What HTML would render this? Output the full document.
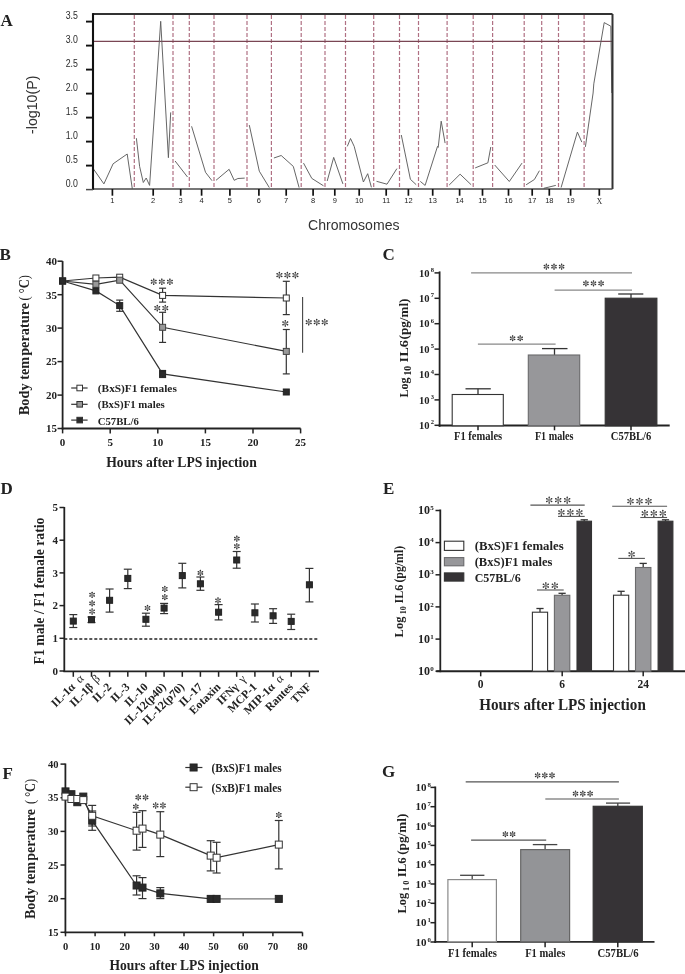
<!DOCTYPE html><html><head><meta charset="utf-8"><style>html,body{margin:0;padding:0;background:#fff;}svg{display:block;}</style></head><body>
<svg width="685" height="974" viewBox="0 0 685 974">
<rect width="685" height="974" fill="#fff"/>
<line x1="134.3" y1="15.0" x2="134.3" y2="189.0" stroke="#b07083" stroke-width="1.2" stroke-dasharray="4,2"/>
<line x1="173.0" y1="15.0" x2="173.0" y2="189.0" stroke="#b07083" stroke-width="1.2" stroke-dasharray="4,2"/>
<line x1="189.3" y1="15.0" x2="189.3" y2="189.0" stroke="#b07083" stroke-width="1.2" stroke-dasharray="4,2"/>
<line x1="214.0" y1="15.0" x2="214.0" y2="189.0" stroke="#b07083" stroke-width="1.2" stroke-dasharray="4,2"/>
<line x1="247.0" y1="15.0" x2="247.0" y2="189.0" stroke="#b07083" stroke-width="1.2" stroke-dasharray="4,2"/>
<line x1="271.4" y1="15.0" x2="271.4" y2="189.0" stroke="#b07083" stroke-width="1.2" stroke-dasharray="4,2"/>
<line x1="301.2" y1="15.0" x2="301.2" y2="189.0" stroke="#b07083" stroke-width="1.2" stroke-dasharray="4,2"/>
<line x1="325.0" y1="15.0" x2="325.0" y2="189.0" stroke="#b07083" stroke-width="1.2" stroke-dasharray="4,2"/>
<line x1="345.5" y1="15.0" x2="345.5" y2="189.0" stroke="#b07083" stroke-width="1.2" stroke-dasharray="4,2"/>
<line x1="373.7" y1="15.0" x2="373.7" y2="189.0" stroke="#b07083" stroke-width="1.2" stroke-dasharray="4,2"/>
<line x1="399.5" y1="15.0" x2="399.5" y2="189.0" stroke="#b07083" stroke-width="1.2" stroke-dasharray="4,2"/>
<line x1="418.5" y1="15.0" x2="418.5" y2="189.0" stroke="#b07083" stroke-width="1.2" stroke-dasharray="4,2"/>
<line x1="447.1" y1="15.0" x2="447.1" y2="189.0" stroke="#b07083" stroke-width="1.2" stroke-dasharray="4,2"/>
<line x1="473.2" y1="15.0" x2="473.2" y2="189.0" stroke="#b07083" stroke-width="1.2" stroke-dasharray="4,2"/>
<line x1="492.6" y1="15.0" x2="492.6" y2="189.0" stroke="#b07083" stroke-width="1.2" stroke-dasharray="4,2"/>
<line x1="524.2" y1="15.0" x2="524.2" y2="189.0" stroke="#b07083" stroke-width="1.2" stroke-dasharray="4,2"/>
<line x1="541.7" y1="15.0" x2="541.7" y2="189.0" stroke="#b07083" stroke-width="1.2" stroke-dasharray="4,2"/>
<line x1="558.5" y1="15.0" x2="558.5" y2="189.0" stroke="#b07083" stroke-width="1.2" stroke-dasharray="4,2"/>
<line x1="584.1" y1="15.0" x2="584.1" y2="189.0" stroke="#b07083" stroke-width="1.2" stroke-dasharray="4,2"/>
<line x1="93.0" y1="41.3" x2="612.5" y2="41.3" stroke="#7a4654" stroke-width="1.2" />
<polyline points="93.2,168.6 103.9,183.9 113.1,163.8 127.2,154.0 132.3,188.8" fill="none" stroke="#5e5e5e" stroke-width="0.95" stroke-linejoin="miter" />
<polyline points="136.4,138.2 139.6,166.4 143.3,182.5 146.2,178.0 149.6,185.4 160.7,21.3 168.4,157.7 170.7,112.4" fill="none" stroke="#5e5e5e" stroke-width="0.95" stroke-linejoin="miter" />
<polyline points="175.1,161.0 187.5,177.0" fill="none" stroke="#5e5e5e" stroke-width="0.95" stroke-linejoin="miter" />
<polyline points="191.6,126.3 205.5,172.3 212.0,180.7" fill="none" stroke="#5e5e5e" stroke-width="0.95" stroke-linejoin="miter" />
<polyline points="216.0,180.3 229.1,169.3 234.2,180.3 237.9,178.5 244.7,178.1" fill="none" stroke="#5e5e5e" stroke-width="0.95" stroke-linejoin="miter" />
<polyline points="249.3,125.1 259.3,171.2 269.3,187.6" fill="none" stroke="#5e5e5e" stroke-width="0.95" stroke-linejoin="miter" />
<polyline points="273.9,158.0 281.2,155.5 293.3,166.4 299.1,187.6" fill="none" stroke="#5e5e5e" stroke-width="0.95" stroke-linejoin="miter" />
<polyline points="303.5,163.1 311.8,178.4 323.5,185.8" fill="none" stroke="#5e5e5e" stroke-width="0.95" stroke-linejoin="miter" />
<polyline points="327.2,181.0 333.7,157.4 342.9,183.9" fill="none" stroke="#5e5e5e" stroke-width="0.95" stroke-linejoin="miter" />
<polyline points="347.3,146.4 350.5,138.5 354.2,146.4 363.4,182.0 367.7,173.7 371.4,187.3" fill="none" stroke="#5e5e5e" stroke-width="0.95" stroke-linejoin="miter" />
<polyline points="376.5,181.3 387.0,184.2 396.9,168.6" fill="none" stroke="#5e5e5e" stroke-width="0.95" stroke-linejoin="miter" />
<polyline points="401.3,135.0 410.4,179.3 416.2,184.7" fill="none" stroke="#5e5e5e" stroke-width="0.95" stroke-linejoin="miter" />
<polyline points="420.3,181.4 425.1,185.4 437.5,146.4 438.2,147.4 441.2,121.2 445.1,143.1" fill="none" stroke="#5e5e5e" stroke-width="0.95" stroke-linejoin="miter" />
<polyline points="449.2,185.0 460.1,174.2 471.1,184.7" fill="none" stroke="#5e5e5e" stroke-width="0.95" stroke-linejoin="miter" />
<polyline points="475.2,167.9 487.9,162.8 490.8,147.0" fill="none" stroke="#5e5e5e" stroke-width="0.95" stroke-linejoin="miter" />
<polyline points="494.7,165.0 509.3,181.5 522.0,163.1" fill="none" stroke="#5e5e5e" stroke-width="0.95" stroke-linejoin="miter" />
<polyline points="526.1,184.8 534.4,179.5 539.4,170.7" fill="none" stroke="#5e5e5e" stroke-width="0.95" stroke-linejoin="miter" />
<polyline points="543.7,188.3 555.8,185.4" fill="none" stroke="#5e5e5e" stroke-width="0.95" stroke-linejoin="miter" />
<polyline points="561.1,187.5 577.4,132.1 581.8,142.1" fill="none" stroke="#5e5e5e" stroke-width="0.95" stroke-linejoin="miter" />
<polyline points="585.4,146.9 593.1,93.0 593.8,83.8 604.2,22.6 610.8,26.2 611.8,93.0" fill="none" stroke="#5e5e5e" stroke-width="0.95" stroke-linejoin="miter" />
<line x1="93.0" y1="14.0" x2="612.5" y2="14.0" stroke="#333" stroke-width="2" />
<line x1="612.5" y1="14.0" x2="612.5" y2="189.0" stroke="#333" stroke-width="2" />
<line x1="93.0" y1="189.0" x2="612.5" y2="189.0" stroke="#4a4a4a" stroke-width="1.5" />
<line x1="93.0" y1="13.1" x2="93.0" y2="189.7" stroke="#111" stroke-width="2.1" />
<line x1="86.0" y1="189.6" x2="93.0" y2="189.6" stroke="#4a4a4a" stroke-width="1.5" />
<line x1="86.0" y1="165.6" x2="93.0" y2="165.6" stroke="#111" stroke-width="1.9" />
<line x1="86.0" y1="141.6" x2="93.0" y2="141.6" stroke="#111" stroke-width="1.9" />
<line x1="86.0" y1="117.6" x2="93.0" y2="117.6" stroke="#111" stroke-width="1.9" />
<line x1="86.0" y1="93.6" x2="93.0" y2="93.6" stroke="#111" stroke-width="1.9" />
<line x1="86.0" y1="69.6" x2="93.0" y2="69.6" stroke="#111" stroke-width="1.9" />
<line x1="86.0" y1="45.6" x2="93.0" y2="45.6" stroke="#111" stroke-width="1.9" />
<line x1="86.0" y1="21.6" x2="93.0" y2="21.6" stroke="#111" stroke-width="1.9" />
<line x1="112.4" y1="189.0" x2="112.4" y2="195.7" stroke="#111" stroke-width="1.7" />
<line x1="153.2" y1="189.0" x2="153.2" y2="195.7" stroke="#111" stroke-width="1.7" />
<line x1="180.7" y1="189.0" x2="180.7" y2="195.7" stroke="#111" stroke-width="1.7" />
<line x1="201.6" y1="189.0" x2="201.6" y2="195.7" stroke="#111" stroke-width="1.7" />
<line x1="229.9" y1="189.0" x2="229.9" y2="195.7" stroke="#111" stroke-width="1.7" />
<line x1="258.9" y1="189.0" x2="258.9" y2="195.7" stroke="#111" stroke-width="1.7" />
<line x1="286.2" y1="189.0" x2="286.2" y2="195.7" stroke="#111" stroke-width="1.7" />
<line x1="313.1" y1="189.0" x2="313.1" y2="195.7" stroke="#111" stroke-width="1.7" />
<line x1="334.8" y1="189.0" x2="334.8" y2="195.7" stroke="#111" stroke-width="1.7" />
<line x1="359.2" y1="189.0" x2="359.2" y2="195.7" stroke="#111" stroke-width="1.7" />
<line x1="386.2" y1="189.0" x2="386.2" y2="195.7" stroke="#111" stroke-width="1.7" />
<line x1="408.4" y1="189.0" x2="408.4" y2="195.7" stroke="#111" stroke-width="1.7" />
<line x1="432.7" y1="189.0" x2="432.7" y2="195.7" stroke="#111" stroke-width="1.7" />
<line x1="459.6" y1="189.0" x2="459.6" y2="195.7" stroke="#111" stroke-width="1.7" />
<line x1="482.5" y1="189.0" x2="482.5" y2="195.7" stroke="#111" stroke-width="1.7" />
<line x1="508.5" y1="189.0" x2="508.5" y2="195.7" stroke="#111" stroke-width="1.7" />
<line x1="532.2" y1="189.0" x2="532.2" y2="195.7" stroke="#111" stroke-width="1.7" />
<line x1="549.3" y1="189.0" x2="549.3" y2="195.7" stroke="#111" stroke-width="1.7" />
<line x1="570.6" y1="189.0" x2="570.6" y2="195.7" stroke="#111" stroke-width="1.7" />
<line x1="599.3" y1="189.0" x2="599.3" y2="195.7" stroke="#111" stroke-width="1.7" />
<line x1="62.6" y1="261.1" x2="62.6" y2="429.4" stroke="#222" stroke-width="1.8" />
<line x1="61.7" y1="428.5" x2="300.6" y2="428.5" stroke="#222" stroke-width="1.8" />
<line x1="57.5" y1="428.5" x2="62.6" y2="428.5" stroke="#222" stroke-width="1.5" />
<line x1="57.5" y1="395.1" x2="62.6" y2="395.1" stroke="#222" stroke-width="1.5" />
<line x1="57.5" y1="361.6" x2="62.6" y2="361.6" stroke="#222" stroke-width="1.5" />
<line x1="57.5" y1="328.1" x2="62.6" y2="328.1" stroke="#222" stroke-width="1.5" />
<line x1="57.5" y1="294.7" x2="62.6" y2="294.7" stroke="#222" stroke-width="1.5" />
<line x1="57.5" y1="261.2" x2="62.6" y2="261.2" stroke="#222" stroke-width="1.5" />
<line x1="62.6" y1="428.4" x2="62.6" y2="433.4" stroke="#222" stroke-width="1.5" />
<line x1="110.2" y1="428.4" x2="110.2" y2="433.4" stroke="#222" stroke-width="1.5" />
<line x1="157.8" y1="428.4" x2="157.8" y2="433.4" stroke="#222" stroke-width="1.5" />
<line x1="205.4" y1="428.4" x2="205.4" y2="433.4" stroke="#222" stroke-width="1.5" />
<line x1="253.0" y1="428.4" x2="253.0" y2="433.4" stroke="#222" stroke-width="1.5" />
<line x1="300.6" y1="428.4" x2="300.6" y2="433.4" stroke="#222" stroke-width="1.5" />
<line x1="162.6" y1="288.2" x2="162.6" y2="302.1" stroke="#333" stroke-width="1.2" />
<line x1="159.1" y1="288.2" x2="166.1" y2="288.2" stroke="#333" stroke-width="1.2" />
<line x1="159.1" y1="302.1" x2="166.1" y2="302.1" stroke="#333" stroke-width="1.2" />
<line x1="286.3" y1="281.3" x2="286.3" y2="314.6" stroke="#333" stroke-width="1.2" />
<line x1="282.8" y1="281.3" x2="289.8" y2="281.3" stroke="#333" stroke-width="1.2" />
<line x1="282.8" y1="314.6" x2="289.8" y2="314.6" stroke="#333" stroke-width="1.2" />
<line x1="162.6" y1="312.3" x2="162.6" y2="342.4" stroke="#333" stroke-width="1.2" />
<line x1="159.1" y1="312.3" x2="166.1" y2="312.3" stroke="#333" stroke-width="1.2" />
<line x1="159.1" y1="342.4" x2="166.1" y2="342.4" stroke="#333" stroke-width="1.2" />
<line x1="286.3" y1="329.5" x2="286.3" y2="373.9" stroke="#333" stroke-width="1.2" />
<line x1="282.8" y1="329.5" x2="289.8" y2="329.5" stroke="#333" stroke-width="1.2" />
<line x1="282.8" y1="373.9" x2="289.8" y2="373.9" stroke="#333" stroke-width="1.2" />
<line x1="119.7" y1="300.1" x2="119.7" y2="311.3" stroke="#333" stroke-width="1.2" />
<line x1="116.2" y1="300.1" x2="123.2" y2="300.1" stroke="#333" stroke-width="1.2" />
<line x1="116.2" y1="311.3" x2="123.2" y2="311.3" stroke="#333" stroke-width="1.2" />
<line x1="162.6" y1="370.5" x2="162.6" y2="377.5" stroke="#333" stroke-width="1.2" />
<line x1="159.1" y1="370.5" x2="166.1" y2="370.5" stroke="#333" stroke-width="1.2" />
<line x1="159.1" y1="377.5" x2="166.1" y2="377.5" stroke="#333" stroke-width="1.2" />
<polyline points="62.6,281.0 95.9,290.9 119.7,305.6 162.6,373.9 286.3,392.0" fill="none" stroke="#333" stroke-width="1.2" stroke-linejoin="miter" />
<polyline points="62.6,281.0 95.9,284.3 119.7,280.2 162.6,327.3 286.3,351.4" fill="none" stroke="#333" stroke-width="1.2" stroke-linejoin="miter" />
<polyline points="62.6,281.0 95.9,278.0 119.7,277.2 162.6,295.4 286.3,298.0" fill="none" stroke="#333" stroke-width="1.2" stroke-linejoin="miter" />
<rect x="59.6" y="278.0" width="6" height="6" fill="#fff" stroke="#333" stroke-width="1"/>
<rect x="92.9" y="275.0" width="6" height="6" fill="#fff" stroke="#333" stroke-width="1"/>
<rect x="116.7" y="274.2" width="6" height="6" fill="#fff" stroke="#333" stroke-width="1"/>
<rect x="159.6" y="292.4" width="6" height="6" fill="#fff" stroke="#333" stroke-width="1"/>
<rect x="283.3" y="295.0" width="6" height="6" fill="#fff" stroke="#333" stroke-width="1"/>
<rect x="59.6" y="278.0" width="6" height="6" fill="#999" stroke="#444" stroke-width="1"/>
<rect x="92.9" y="281.3" width="6" height="6" fill="#999" stroke="#444" stroke-width="1"/>
<rect x="116.7" y="277.2" width="6" height="6" fill="#999" stroke="#444" stroke-width="1"/>
<rect x="159.6" y="324.3" width="6" height="6" fill="#999" stroke="#444" stroke-width="1"/>
<rect x="283.3" y="348.4" width="6" height="6" fill="#999" stroke="#444" stroke-width="1"/>
<rect x="59.6" y="278.0" width="6" height="6" fill="#2a2a2a" stroke="#222" stroke-width="1"/>
<rect x="92.9" y="287.9" width="6" height="6" fill="#2a2a2a" stroke="#222" stroke-width="1"/>
<rect x="116.7" y="302.6" width="6" height="6" fill="#2a2a2a" stroke="#222" stroke-width="1"/>
<rect x="159.6" y="370.9" width="6" height="6" fill="#2a2a2a" stroke="#222" stroke-width="1"/>
<rect x="283.3" y="389.0" width="6" height="6" fill="#2a2a2a" stroke="#222" stroke-width="1"/>
<path d="M153.70,281.70L153.70,279.14M153.70,281.70L155.92,280.42M153.70,281.70L155.92,282.98M153.70,281.70L153.70,284.26M153.70,281.70L151.48,280.42M153.70,281.70L151.48,282.98" stroke="#8a8a8a" stroke-width="1.26" stroke-linecap="round"/>
<g fill="#333"><circle cx="153.70" cy="279.14" r="0.75"/><circle cx="155.92" cy="280.42" r="0.75"/><circle cx="155.92" cy="282.98" r="0.75"/><circle cx="153.70" cy="284.26" r="0.75"/><circle cx="151.48" cy="280.42" r="0.75"/><circle cx="151.48" cy="282.98" r="0.75"/></g>
<path d="M161.80,281.70L161.80,279.14M161.80,281.70L164.02,280.42M161.80,281.70L164.02,282.98M161.80,281.70L161.80,284.26M161.80,281.70L159.58,280.42M161.80,281.70L159.58,282.98" stroke="#8a8a8a" stroke-width="1.26" stroke-linecap="round"/>
<g fill="#333"><circle cx="161.80" cy="279.14" r="0.75"/><circle cx="164.02" cy="280.42" r="0.75"/><circle cx="164.02" cy="282.98" r="0.75"/><circle cx="161.80" cy="284.26" r="0.75"/><circle cx="159.58" cy="280.42" r="0.75"/><circle cx="159.58" cy="282.98" r="0.75"/></g>
<path d="M169.90,281.70L169.90,279.14M169.90,281.70L172.12,280.42M169.90,281.70L172.12,282.98M169.90,281.70L169.90,284.26M169.90,281.70L167.68,280.42M169.90,281.70L167.68,282.98" stroke="#8a8a8a" stroke-width="1.26" stroke-linecap="round"/>
<g fill="#333"><circle cx="169.90" cy="279.14" r="0.75"/><circle cx="172.12" cy="280.42" r="0.75"/><circle cx="172.12" cy="282.98" r="0.75"/><circle cx="169.90" cy="284.26" r="0.75"/><circle cx="167.68" cy="280.42" r="0.75"/><circle cx="167.68" cy="282.98" r="0.75"/></g>
<path d="M157.30,308.10L157.30,305.54M157.30,308.10L159.52,306.82M157.30,308.10L159.52,309.38M157.30,308.10L157.30,310.66M157.30,308.10L155.08,306.82M157.30,308.10L155.08,309.38" stroke="#8a8a8a" stroke-width="1.26" stroke-linecap="round"/>
<g fill="#333"><circle cx="157.30" cy="305.54" r="0.75"/><circle cx="159.52" cy="306.82" r="0.75"/><circle cx="159.52" cy="309.38" r="0.75"/><circle cx="157.30" cy="310.66" r="0.75"/><circle cx="155.08" cy="306.82" r="0.75"/><circle cx="155.08" cy="309.38" r="0.75"/></g>
<path d="M165.30,308.10L165.30,305.54M165.30,308.10L167.52,306.82M165.30,308.10L167.52,309.38M165.30,308.10L165.30,310.66M165.30,308.10L163.08,306.82M165.30,308.10L163.08,309.38" stroke="#8a8a8a" stroke-width="1.26" stroke-linecap="round"/>
<g fill="#333"><circle cx="165.30" cy="305.54" r="0.75"/><circle cx="167.52" cy="306.82" r="0.75"/><circle cx="167.52" cy="309.38" r="0.75"/><circle cx="165.30" cy="310.66" r="0.75"/><circle cx="163.08" cy="306.82" r="0.75"/><circle cx="163.08" cy="309.38" r="0.75"/></g>
<path d="M279.40,275.10L279.40,272.46M279.40,275.10L281.69,273.78M279.40,275.10L281.69,276.42M279.40,275.10L279.40,277.74M279.40,275.10L277.11,273.78M279.40,275.10L277.11,276.42" stroke="#8a8a8a" stroke-width="1.26" stroke-linecap="round"/>
<g fill="#333"><circle cx="279.40" cy="272.46" r="0.75"/><circle cx="281.69" cy="273.78" r="0.75"/><circle cx="281.69" cy="276.42" r="0.75"/><circle cx="279.40" cy="277.74" r="0.75"/><circle cx="277.11" cy="273.78" r="0.75"/><circle cx="277.11" cy="276.42" r="0.75"/></g>
<path d="M287.40,275.10L287.40,272.46M287.40,275.10L289.69,273.78M287.40,275.10L289.69,276.42M287.40,275.10L287.40,277.74M287.40,275.10L285.11,273.78M287.40,275.10L285.11,276.42" stroke="#8a8a8a" stroke-width="1.26" stroke-linecap="round"/>
<g fill="#333"><circle cx="287.40" cy="272.46" r="0.75"/><circle cx="289.69" cy="273.78" r="0.75"/><circle cx="289.69" cy="276.42" r="0.75"/><circle cx="287.40" cy="277.74" r="0.75"/><circle cx="285.11" cy="273.78" r="0.75"/><circle cx="285.11" cy="276.42" r="0.75"/></g>
<path d="M295.40,275.10L295.40,272.46M295.40,275.10L297.69,273.78M295.40,275.10L297.69,276.42M295.40,275.10L295.40,277.74M295.40,275.10L293.11,273.78M295.40,275.10L293.11,276.42" stroke="#8a8a8a" stroke-width="1.26" stroke-linecap="round"/>
<g fill="#333"><circle cx="295.40" cy="272.46" r="0.75"/><circle cx="297.69" cy="273.78" r="0.75"/><circle cx="297.69" cy="276.42" r="0.75"/><circle cx="295.40" cy="277.74" r="0.75"/><circle cx="293.11" cy="273.78" r="0.75"/><circle cx="293.11" cy="276.42" r="0.75"/></g>
<path d="M285.30,323.40L285.30,320.76M285.30,323.40L287.59,322.08M285.30,323.40L287.59,324.72M285.30,323.40L285.30,326.04M285.30,323.40L283.01,322.08M285.30,323.40L283.01,324.72" stroke="#8a8a8a" stroke-width="1.26" stroke-linecap="round"/>
<g fill="#333"><circle cx="285.30" cy="320.76" r="0.75"/><circle cx="287.59" cy="322.08" r="0.75"/><circle cx="287.59" cy="324.72" r="0.75"/><circle cx="285.30" cy="326.04" r="0.75"/><circle cx="283.01" cy="322.08" r="0.75"/><circle cx="283.01" cy="324.72" r="0.75"/></g>
<line x1="302.6" y1="297.1" x2="302.6" y2="352.8" stroke="#444" stroke-width="1.1" />
<path d="M308.70,322.20L308.70,319.56M308.70,322.20L310.99,320.88M308.70,322.20L310.99,323.52M308.70,322.20L308.70,324.84M308.70,322.20L306.41,320.88M308.70,322.20L306.41,323.52" stroke="#8a8a8a" stroke-width="1.26" stroke-linecap="round"/>
<g fill="#333"><circle cx="308.70" cy="319.56" r="0.75"/><circle cx="310.99" cy="320.88" r="0.75"/><circle cx="310.99" cy="323.52" r="0.75"/><circle cx="308.70" cy="324.84" r="0.75"/><circle cx="306.41" cy="320.88" r="0.75"/><circle cx="306.41" cy="323.52" r="0.75"/></g>
<path d="M316.70,322.20L316.70,319.56M316.70,322.20L318.99,320.88M316.70,322.20L318.99,323.52M316.70,322.20L316.70,324.84M316.70,322.20L314.41,320.88M316.70,322.20L314.41,323.52" stroke="#8a8a8a" stroke-width="1.26" stroke-linecap="round"/>
<g fill="#333"><circle cx="316.70" cy="319.56" r="0.75"/><circle cx="318.99" cy="320.88" r="0.75"/><circle cx="318.99" cy="323.52" r="0.75"/><circle cx="316.70" cy="324.84" r="0.75"/><circle cx="314.41" cy="320.88" r="0.75"/><circle cx="314.41" cy="323.52" r="0.75"/></g>
<path d="M324.70,322.20L324.70,319.56M324.70,322.20L326.99,320.88M324.70,322.20L326.99,323.52M324.70,322.20L324.70,324.84M324.70,322.20L322.41,320.88M324.70,322.20L322.41,323.52" stroke="#8a8a8a" stroke-width="1.26" stroke-linecap="round"/>
<g fill="#333"><circle cx="324.70" cy="319.56" r="0.75"/><circle cx="326.99" cy="320.88" r="0.75"/><circle cx="326.99" cy="323.52" r="0.75"/><circle cx="324.70" cy="324.84" r="0.75"/><circle cx="322.41" cy="320.88" r="0.75"/><circle cx="322.41" cy="323.52" r="0.75"/></g>
<line x1="71.2" y1="388.0" x2="87.6" y2="388.0" stroke="#333" stroke-width="1.2" />
<rect x="76.9" y="385.2" width="5.6" height="5.6" fill="#fff" stroke="#333" stroke-width="1"/>
<line x1="71.2" y1="404.3" x2="87.6" y2="404.3" stroke="#333" stroke-width="1.2" />
<rect x="76.9" y="401.5" width="5.6" height="5.6" fill="#999" stroke="#333" stroke-width="1"/>
<line x1="71.2" y1="420.1" x2="87.6" y2="420.1" stroke="#333" stroke-width="1.2" />
<rect x="76.9" y="417.3" width="5.6" height="5.6" fill="#2a2a2a" stroke="#333" stroke-width="1"/>
<line x1="439.6" y1="271.4" x2="439.6" y2="426.8" stroke="#222" stroke-width="1.8" />
<line x1="438.7" y1="425.5" x2="669.7" y2="425.5" stroke="#222" stroke-width="2" />
<line x1="434.5" y1="425.3" x2="439.6" y2="425.3" stroke="#222" stroke-width="1.5" />
<line x1="434.5" y1="399.9" x2="439.6" y2="399.9" stroke="#222" stroke-width="1.5" />
<line x1="434.5" y1="374.5" x2="439.6" y2="374.5" stroke="#222" stroke-width="1.5" />
<line x1="434.5" y1="349.1" x2="439.6" y2="349.1" stroke="#222" stroke-width="1.5" />
<line x1="434.5" y1="323.7" x2="439.6" y2="323.7" stroke="#222" stroke-width="1.5" />
<line x1="434.5" y1="298.3" x2="439.6" y2="298.3" stroke="#222" stroke-width="1.5" />
<line x1="434.5" y1="272.9" x2="439.6" y2="272.9" stroke="#222" stroke-width="1.5" />
<line x1="478.0" y1="388.8" x2="478.0" y2="394.5" stroke="#333" stroke-width="1.3" />
<line x1="465.5" y1="388.8" x2="490.8" y2="388.8" stroke="#333" stroke-width="1.3" />
<rect x="452.2" y="394.5" width="51.1" height="31.3" fill="#fff" stroke="#333" stroke-width="1.1"/>
<line x1="478.0" y1="425.8" x2="478.0" y2="430.3" stroke="#222" stroke-width="1.5" />
<line x1="554.5" y1="348.6" x2="554.5" y2="355.0" stroke="#333" stroke-width="1.3" />
<line x1="542.0" y1="348.6" x2="567.5" y2="348.6" stroke="#333" stroke-width="1.3" />
<rect x="528.3" y="355" width="51.4" height="70.8" fill="#97979a" stroke="#6a6a6c" stroke-width="1.1"/>
<line x1="554.5" y1="425.8" x2="554.5" y2="430.3" stroke="#222" stroke-width="1.5" />
<line x1="631.0" y1="294.0" x2="631.0" y2="298.2" stroke="#333" stroke-width="1.3" />
<line x1="618.2" y1="294.0" x2="643.3" y2="294.0" stroke="#333" stroke-width="1.3" />
<rect x="605.2" y="298.2" width="51.7" height="127.6" fill="#363336" stroke="#333" stroke-width="1.1"/>
<line x1="631.0" y1="425.8" x2="631.0" y2="430.3" stroke="#222" stroke-width="1.5" />
<line x1="471.1" y1="272.9" x2="632.0" y2="272.9" stroke="#888" stroke-width="1.1" />
<path d="M546.40,266.60L546.40,264.28M546.40,266.60L548.41,265.44M546.40,266.60L548.41,267.76M546.40,266.60L546.40,268.92M546.40,266.60L544.39,265.44M546.40,266.60L544.39,267.76" stroke="#8a8a8a" stroke-width="1.26" stroke-linecap="round"/>
<g fill="#333"><circle cx="546.40" cy="264.28" r="0.75"/><circle cx="548.41" cy="265.44" r="0.75"/><circle cx="548.41" cy="267.76" r="0.75"/><circle cx="546.40" cy="268.92" r="0.75"/><circle cx="544.39" cy="265.44" r="0.75"/><circle cx="544.39" cy="267.76" r="0.75"/></g>
<path d="M554.00,266.60L554.00,264.28M554.00,266.60L556.01,265.44M554.00,266.60L556.01,267.76M554.00,266.60L554.00,268.92M554.00,266.60L551.99,265.44M554.00,266.60L551.99,267.76" stroke="#8a8a8a" stroke-width="1.26" stroke-linecap="round"/>
<g fill="#333"><circle cx="554.00" cy="264.28" r="0.75"/><circle cx="556.01" cy="265.44" r="0.75"/><circle cx="556.01" cy="267.76" r="0.75"/><circle cx="554.00" cy="268.92" r="0.75"/><circle cx="551.99" cy="265.44" r="0.75"/><circle cx="551.99" cy="267.76" r="0.75"/></g>
<path d="M561.60,266.60L561.60,264.28M561.60,266.60L563.61,265.44M561.60,266.60L563.61,267.76M561.60,266.60L561.60,268.92M561.60,266.60L559.59,265.44M561.60,266.60L559.59,267.76" stroke="#8a8a8a" stroke-width="1.26" stroke-linecap="round"/>
<g fill="#333"><circle cx="561.60" cy="264.28" r="0.75"/><circle cx="563.61" cy="265.44" r="0.75"/><circle cx="563.61" cy="267.76" r="0.75"/><circle cx="561.60" cy="268.92" r="0.75"/><circle cx="559.59" cy="265.44" r="0.75"/><circle cx="559.59" cy="267.76" r="0.75"/></g>
<line x1="554.6" y1="290.1" x2="632.0" y2="290.1" stroke="#888" stroke-width="1.1" />
<path d="M585.90,283.40L585.90,281.08M585.90,283.40L587.91,282.24M585.90,283.40L587.91,284.56M585.90,283.40L585.90,285.72M585.90,283.40L583.89,282.24M585.90,283.40L583.89,284.56" stroke="#8a8a8a" stroke-width="1.26" stroke-linecap="round"/>
<g fill="#333"><circle cx="585.90" cy="281.08" r="0.75"/><circle cx="587.91" cy="282.24" r="0.75"/><circle cx="587.91" cy="284.56" r="0.75"/><circle cx="585.90" cy="285.72" r="0.75"/><circle cx="583.89" cy="282.24" r="0.75"/><circle cx="583.89" cy="284.56" r="0.75"/></g>
<path d="M593.50,283.40L593.50,281.08M593.50,283.40L595.51,282.24M593.50,283.40L595.51,284.56M593.50,283.40L593.50,285.72M593.50,283.40L591.49,282.24M593.50,283.40L591.49,284.56" stroke="#8a8a8a" stroke-width="1.26" stroke-linecap="round"/>
<g fill="#333"><circle cx="593.50" cy="281.08" r="0.75"/><circle cx="595.51" cy="282.24" r="0.75"/><circle cx="595.51" cy="284.56" r="0.75"/><circle cx="593.50" cy="285.72" r="0.75"/><circle cx="591.49" cy="282.24" r="0.75"/><circle cx="591.49" cy="284.56" r="0.75"/></g>
<path d="M601.10,283.40L601.10,281.08M601.10,283.40L603.11,282.24M601.10,283.40L603.11,284.56M601.10,283.40L601.10,285.72M601.10,283.40L599.09,282.24M601.10,283.40L599.09,284.56" stroke="#8a8a8a" stroke-width="1.26" stroke-linecap="round"/>
<g fill="#333"><circle cx="601.10" cy="281.08" r="0.75"/><circle cx="603.11" cy="282.24" r="0.75"/><circle cx="603.11" cy="284.56" r="0.75"/><circle cx="601.10" cy="285.72" r="0.75"/><circle cx="599.09" cy="282.24" r="0.75"/><circle cx="599.09" cy="284.56" r="0.75"/></g>
<line x1="477.9" y1="344.1" x2="555.6" y2="344.1" stroke="#888" stroke-width="1.1" />
<path d="M512.60,338.30L512.60,335.98M512.60,338.30L514.61,337.14M512.60,338.30L514.61,339.46M512.60,338.30L512.60,340.62M512.60,338.30L510.59,337.14M512.60,338.30L510.59,339.46" stroke="#8a8a8a" stroke-width="1.26" stroke-linecap="round"/>
<g fill="#333"><circle cx="512.60" cy="335.98" r="0.75"/><circle cx="514.61" cy="337.14" r="0.75"/><circle cx="514.61" cy="339.46" r="0.75"/><circle cx="512.60" cy="340.62" r="0.75"/><circle cx="510.59" cy="337.14" r="0.75"/><circle cx="510.59" cy="339.46" r="0.75"/></g>
<path d="M520.20,338.30L520.20,335.98M520.20,338.30L522.21,337.14M520.20,338.30L522.21,339.46M520.20,338.30L520.20,340.62M520.20,338.30L518.19,337.14M520.20,338.30L518.19,339.46" stroke="#8a8a8a" stroke-width="1.26" stroke-linecap="round"/>
<g fill="#333"><circle cx="520.20" cy="335.98" r="0.75"/><circle cx="522.21" cy="337.14" r="0.75"/><circle cx="522.21" cy="339.46" r="0.75"/><circle cx="520.20" cy="340.62" r="0.75"/><circle cx="518.19" cy="337.14" r="0.75"/><circle cx="518.19" cy="339.46" r="0.75"/></g>
<line x1="64.3" y1="507.0" x2="64.3" y2="672.0" stroke="#222" stroke-width="1.8" />
<line x1="63.4" y1="671.4" x2="319.0" y2="671.4" stroke="#222" stroke-width="1.8" />
<line x1="59.5" y1="671.0" x2="64.3" y2="671.0" stroke="#222" stroke-width="1.5" />
<line x1="59.5" y1="638.3" x2="64.3" y2="638.3" stroke="#222" stroke-width="1.5" />
<line x1="59.5" y1="605.6" x2="64.3" y2="605.6" stroke="#222" stroke-width="1.5" />
<line x1="59.5" y1="572.9" x2="64.3" y2="572.9" stroke="#222" stroke-width="1.5" />
<line x1="59.5" y1="540.2" x2="64.3" y2="540.2" stroke="#222" stroke-width="1.5" />
<line x1="59.5" y1="507.5" x2="64.3" y2="507.5" stroke="#222" stroke-width="1.5" />
<line x1="64.3" y1="639.0" x2="317.3" y2="639.0" stroke="#222" stroke-width="1.5" stroke-dasharray="3,2"/>
<line x1="73.3" y1="614.6" x2="73.3" y2="627.5" stroke="#333" stroke-width="1.2" />
<line x1="69.3" y1="614.6" x2="77.3" y2="614.6" stroke="#333" stroke-width="1.2" />
<line x1="69.3" y1="627.5" x2="77.3" y2="627.5" stroke="#333" stroke-width="1.2" />
<rect x="70.3" y="618.1" width="6" height="6" fill="#2a2a2a" stroke="#222" stroke-width="1"/>
<line x1="73.3" y1="671.4" x2="73.3" y2="676.8" stroke="#222" stroke-width="1.5" />
<line x1="91.5" y1="617.0" x2="91.5" y2="622.5" stroke="#333" stroke-width="1.2" />
<line x1="87.5" y1="617.0" x2="95.5" y2="617.0" stroke="#333" stroke-width="1.2" />
<line x1="87.5" y1="622.5" x2="95.5" y2="622.5" stroke="#333" stroke-width="1.2" />
<rect x="88.5" y="616.7" width="6" height="6" fill="#2a2a2a" stroke="#222" stroke-width="1"/>
<line x1="91.5" y1="671.4" x2="91.5" y2="676.8" stroke="#222" stroke-width="1.5" />
<line x1="109.6" y1="589.0" x2="109.6" y2="612.1" stroke="#333" stroke-width="1.2" />
<line x1="105.6" y1="589.0" x2="113.6" y2="589.0" stroke="#333" stroke-width="1.2" />
<line x1="105.6" y1="612.1" x2="113.6" y2="612.1" stroke="#333" stroke-width="1.2" />
<rect x="106.6" y="597.3" width="6" height="6" fill="#2a2a2a" stroke="#222" stroke-width="1"/>
<line x1="109.6" y1="671.4" x2="109.6" y2="676.8" stroke="#222" stroke-width="1.5" />
<line x1="127.8" y1="569.2" x2="127.8" y2="588.6" stroke="#333" stroke-width="1.2" />
<line x1="123.8" y1="569.2" x2="131.8" y2="569.2" stroke="#333" stroke-width="1.2" />
<line x1="123.8" y1="588.6" x2="131.8" y2="588.6" stroke="#333" stroke-width="1.2" />
<rect x="124.8" y="575.4" width="6" height="6" fill="#2a2a2a" stroke="#222" stroke-width="1"/>
<line x1="127.8" y1="671.4" x2="127.8" y2="676.8" stroke="#222" stroke-width="1.5" />
<line x1="145.9" y1="613.2" x2="145.9" y2="626.2" stroke="#333" stroke-width="1.2" />
<line x1="141.9" y1="613.2" x2="149.9" y2="613.2" stroke="#333" stroke-width="1.2" />
<line x1="141.9" y1="626.2" x2="149.9" y2="626.2" stroke="#333" stroke-width="1.2" />
<rect x="142.9" y="616.3" width="6" height="6" fill="#2a2a2a" stroke="#222" stroke-width="1"/>
<line x1="145.9" y1="671.4" x2="145.9" y2="676.8" stroke="#222" stroke-width="1.5" />
<line x1="164.1" y1="603.4" x2="164.1" y2="613.6" stroke="#333" stroke-width="1.2" />
<line x1="160.1" y1="603.4" x2="168.1" y2="603.4" stroke="#333" stroke-width="1.2" />
<line x1="160.1" y1="613.6" x2="168.1" y2="613.6" stroke="#333" stroke-width="1.2" />
<rect x="161.1" y="605.1" width="6" height="6" fill="#2a2a2a" stroke="#222" stroke-width="1"/>
<line x1="164.1" y1="671.4" x2="164.1" y2="676.8" stroke="#222" stroke-width="1.5" />
<line x1="182.3" y1="563.3" x2="182.3" y2="587.9" stroke="#333" stroke-width="1.2" />
<line x1="178.3" y1="563.3" x2="186.3" y2="563.3" stroke="#333" stroke-width="1.2" />
<line x1="178.3" y1="587.9" x2="186.3" y2="587.9" stroke="#333" stroke-width="1.2" />
<rect x="179.3" y="572.6" width="6" height="6" fill="#2a2a2a" stroke="#222" stroke-width="1"/>
<line x1="182.3" y1="671.4" x2="182.3" y2="676.8" stroke="#222" stroke-width="1.5" />
<line x1="200.4" y1="577.0" x2="200.4" y2="590.3" stroke="#333" stroke-width="1.2" />
<line x1="196.4" y1="577.0" x2="204.4" y2="577.0" stroke="#333" stroke-width="1.2" />
<line x1="196.4" y1="590.3" x2="204.4" y2="590.3" stroke="#333" stroke-width="1.2" />
<rect x="197.4" y="580.8" width="6" height="6" fill="#2a2a2a" stroke="#222" stroke-width="1"/>
<line x1="200.4" y1="671.4" x2="200.4" y2="676.8" stroke="#222" stroke-width="1.5" />
<line x1="218.6" y1="604.6" x2="218.6" y2="619.9" stroke="#333" stroke-width="1.2" />
<line x1="214.6" y1="604.6" x2="222.6" y2="604.6" stroke="#333" stroke-width="1.2" />
<line x1="214.6" y1="619.9" x2="222.6" y2="619.9" stroke="#333" stroke-width="1.2" />
<rect x="215.6" y="609.2" width="6" height="6" fill="#2a2a2a" stroke="#222" stroke-width="1"/>
<line x1="218.6" y1="671.4" x2="218.6" y2="676.8" stroke="#222" stroke-width="1.5" />
<line x1="236.7" y1="551.5" x2="236.7" y2="568.2" stroke="#333" stroke-width="1.2" />
<line x1="232.7" y1="551.5" x2="240.7" y2="551.5" stroke="#333" stroke-width="1.2" />
<line x1="232.7" y1="568.2" x2="240.7" y2="568.2" stroke="#333" stroke-width="1.2" />
<rect x="233.7" y="557.0" width="6" height="6" fill="#2a2a2a" stroke="#222" stroke-width="1"/>
<line x1="236.7" y1="671.4" x2="236.7" y2="676.8" stroke="#222" stroke-width="1.5" />
<line x1="254.9" y1="604.0" x2="254.9" y2="622.0" stroke="#333" stroke-width="1.2" />
<line x1="250.9" y1="604.0" x2="258.9" y2="604.0" stroke="#333" stroke-width="1.2" />
<line x1="250.9" y1="622.0" x2="258.9" y2="622.0" stroke="#333" stroke-width="1.2" />
<rect x="251.9" y="609.8" width="6" height="6" fill="#2a2a2a" stroke="#222" stroke-width="1"/>
<line x1="254.9" y1="671.4" x2="254.9" y2="676.8" stroke="#222" stroke-width="1.5" />
<line x1="273.1" y1="608.7" x2="273.1" y2="623.4" stroke="#333" stroke-width="1.2" />
<line x1="269.1" y1="608.7" x2="277.1" y2="608.7" stroke="#333" stroke-width="1.2" />
<line x1="269.1" y1="623.4" x2="277.1" y2="623.4" stroke="#333" stroke-width="1.2" />
<rect x="270.1" y="612.8" width="6" height="6" fill="#2a2a2a" stroke="#222" stroke-width="1"/>
<line x1="273.1" y1="671.4" x2="273.1" y2="676.8" stroke="#222" stroke-width="1.5" />
<line x1="291.2" y1="614.2" x2="291.2" y2="629.5" stroke="#333" stroke-width="1.2" />
<line x1="287.2" y1="614.2" x2="295.2" y2="614.2" stroke="#333" stroke-width="1.2" />
<line x1="287.2" y1="629.5" x2="295.2" y2="629.5" stroke="#333" stroke-width="1.2" />
<rect x="288.2" y="618.4" width="6" height="6" fill="#2a2a2a" stroke="#222" stroke-width="1"/>
<line x1="291.2" y1="671.4" x2="291.2" y2="676.8" stroke="#222" stroke-width="1.5" />
<line x1="309.4" y1="568.4" x2="309.4" y2="601.9" stroke="#333" stroke-width="1.2" />
<line x1="305.4" y1="568.4" x2="313.4" y2="568.4" stroke="#333" stroke-width="1.2" />
<line x1="305.4" y1="601.9" x2="313.4" y2="601.9" stroke="#333" stroke-width="1.2" />
<rect x="306.4" y="581.8" width="6" height="6" fill="#2a2a2a" stroke="#222" stroke-width="1"/>
<line x1="309.4" y1="671.4" x2="309.4" y2="676.8" stroke="#222" stroke-width="1.5" />
<path d="M92.10,594.80L92.10,592.40M92.10,594.80L94.18,593.60M92.10,594.80L94.18,596.00M92.10,594.80L92.10,597.20M92.10,594.80L90.02,593.60M92.10,594.80L90.02,596.00" stroke="#8a8a8a" stroke-width="1.26" stroke-linecap="round"/>
<g fill="#333"><circle cx="92.10" cy="592.40" r="0.75"/><circle cx="94.18" cy="593.60" r="0.75"/><circle cx="94.18" cy="596.00" r="0.75"/><circle cx="92.10" cy="597.20" r="0.75"/><circle cx="90.02" cy="593.60" r="0.75"/><circle cx="90.02" cy="596.00" r="0.75"/></g>
<path d="M92.10,603.40L92.10,601.00M92.10,603.40L94.18,602.20M92.10,603.40L94.18,604.60M92.10,603.40L92.10,605.80M92.10,603.40L90.02,602.20M92.10,603.40L90.02,604.60" stroke="#8a8a8a" stroke-width="1.26" stroke-linecap="round"/>
<g fill="#333"><circle cx="92.10" cy="601.00" r="0.75"/><circle cx="94.18" cy="602.20" r="0.75"/><circle cx="94.18" cy="604.60" r="0.75"/><circle cx="92.10" cy="605.80" r="0.75"/><circle cx="90.02" cy="602.20" r="0.75"/><circle cx="90.02" cy="604.60" r="0.75"/></g>
<path d="M92.10,611.50L92.10,609.10M92.10,611.50L94.18,610.30M92.10,611.50L94.18,612.70M92.10,611.50L92.10,613.90M92.10,611.50L90.02,610.30M92.10,611.50L90.02,612.70" stroke="#8a8a8a" stroke-width="1.26" stroke-linecap="round"/>
<g fill="#333"><circle cx="92.10" cy="609.10" r="0.75"/><circle cx="94.18" cy="610.30" r="0.75"/><circle cx="94.18" cy="612.70" r="0.75"/><circle cx="92.10" cy="613.90" r="0.75"/><circle cx="90.02" cy="610.30" r="0.75"/><circle cx="90.02" cy="612.70" r="0.75"/></g>
<path d="M147.50,608.00L147.50,605.60M147.50,608.00L149.58,606.80M147.50,608.00L149.58,609.20M147.50,608.00L147.50,610.40M147.50,608.00L145.42,606.80M147.50,608.00L145.42,609.20" stroke="#8a8a8a" stroke-width="1.26" stroke-linecap="round"/>
<g fill="#333"><circle cx="147.50" cy="605.60" r="0.75"/><circle cx="149.58" cy="606.80" r="0.75"/><circle cx="149.58" cy="609.20" r="0.75"/><circle cx="147.50" cy="610.40" r="0.75"/><circle cx="145.42" cy="606.80" r="0.75"/><circle cx="145.42" cy="609.20" r="0.75"/></g>
<path d="M164.80,589.00L164.80,586.60M164.80,589.00L166.88,587.80M164.80,589.00L166.88,590.20M164.80,589.00L164.80,591.40M164.80,589.00L162.72,587.80M164.80,589.00L162.72,590.20" stroke="#8a8a8a" stroke-width="1.26" stroke-linecap="round"/>
<g fill="#333"><circle cx="164.80" cy="586.60" r="0.75"/><circle cx="166.88" cy="587.80" r="0.75"/><circle cx="166.88" cy="590.20" r="0.75"/><circle cx="164.80" cy="591.40" r="0.75"/><circle cx="162.72" cy="587.80" r="0.75"/><circle cx="162.72" cy="590.20" r="0.75"/></g>
<path d="M164.80,597.20L164.80,594.80M164.80,597.20L166.88,596.00M164.80,597.20L166.88,598.40M164.80,597.20L164.80,599.60M164.80,597.20L162.72,596.00M164.80,597.20L162.72,598.40" stroke="#8a8a8a" stroke-width="1.26" stroke-linecap="round"/>
<g fill="#333"><circle cx="164.80" cy="594.80" r="0.75"/><circle cx="166.88" cy="596.00" r="0.75"/><circle cx="166.88" cy="598.40" r="0.75"/><circle cx="164.80" cy="599.60" r="0.75"/><circle cx="162.72" cy="596.00" r="0.75"/><circle cx="162.72" cy="598.40" r="0.75"/></g>
<path d="M200.40,572.90L200.40,570.50M200.40,572.90L202.48,571.70M200.40,572.90L202.48,574.10M200.40,572.90L200.40,575.30M200.40,572.90L198.32,571.70M200.40,572.90L198.32,574.10" stroke="#8a8a8a" stroke-width="1.26" stroke-linecap="round"/>
<g fill="#333"><circle cx="200.40" cy="570.50" r="0.75"/><circle cx="202.48" cy="571.70" r="0.75"/><circle cx="202.48" cy="574.10" r="0.75"/><circle cx="200.40" cy="575.30" r="0.75"/><circle cx="198.32" cy="571.70" r="0.75"/><circle cx="198.32" cy="574.10" r="0.75"/></g>
<path d="M218.00,600.50L218.00,598.10M218.00,600.50L220.08,599.30M218.00,600.50L220.08,601.70M218.00,600.50L218.00,602.90M218.00,600.50L215.92,599.30M218.00,600.50L215.92,601.70" stroke="#8a8a8a" stroke-width="1.26" stroke-linecap="round"/>
<g fill="#333"><circle cx="218.00" cy="598.10" r="0.75"/><circle cx="220.08" cy="599.30" r="0.75"/><circle cx="220.08" cy="601.70" r="0.75"/><circle cx="218.00" cy="602.90" r="0.75"/><circle cx="215.92" cy="599.30" r="0.75"/><circle cx="215.92" cy="601.70" r="0.75"/></g>
<path d="M236.80,538.60L236.80,536.20M236.80,538.60L238.88,537.40M236.80,538.60L238.88,539.80M236.80,538.60L236.80,541.00M236.80,538.60L234.72,537.40M236.80,538.60L234.72,539.80" stroke="#8a8a8a" stroke-width="1.26" stroke-linecap="round"/>
<g fill="#333"><circle cx="236.80" cy="536.20" r="0.75"/><circle cx="238.88" cy="537.40" r="0.75"/><circle cx="238.88" cy="539.80" r="0.75"/><circle cx="236.80" cy="541.00" r="0.75"/><circle cx="234.72" cy="537.40" r="0.75"/><circle cx="234.72" cy="539.80" r="0.75"/></g>
<path d="M236.80,546.30L236.80,543.90M236.80,546.30L238.88,545.10M236.80,546.30L238.88,547.50M236.80,546.30L236.80,548.70M236.80,546.30L234.72,545.10M236.80,546.30L234.72,547.50" stroke="#8a8a8a" stroke-width="1.26" stroke-linecap="round"/>
<g fill="#333"><circle cx="236.80" cy="543.90" r="0.75"/><circle cx="238.88" cy="545.10" r="0.75"/><circle cx="238.88" cy="547.50" r="0.75"/><circle cx="236.80" cy="548.70" r="0.75"/><circle cx="234.72" cy="545.10" r="0.75"/><circle cx="234.72" cy="547.50" r="0.75"/></g>
<line x1="440.3" y1="509.5" x2="440.3" y2="672.2" stroke="#222" stroke-width="1.8" />
<line x1="436.3" y1="671.2" x2="685.0" y2="671.2" stroke="#222" stroke-width="2" />
<line x1="435.5" y1="671.2" x2="440.3" y2="671.2" stroke="#222" stroke-width="1.5" />
<line x1="435.5" y1="639.1" x2="440.3" y2="639.1" stroke="#222" stroke-width="1.5" />
<line x1="435.5" y1="606.9" x2="440.3" y2="606.9" stroke="#222" stroke-width="1.5" />
<line x1="435.5" y1="574.8" x2="440.3" y2="574.8" stroke="#222" stroke-width="1.5" />
<line x1="435.5" y1="542.6" x2="440.3" y2="542.6" stroke="#222" stroke-width="1.5" />
<line x1="435.5" y1="510.5" x2="440.3" y2="510.5" stroke="#222" stroke-width="1.5" />
<line x1="540.0" y1="608.5" x2="540.0" y2="612.2" stroke="#333" stroke-width="1.3" />
<line x1="536.4" y1="608.5" x2="543.6" y2="608.5" stroke="#333" stroke-width="1.3" />
<rect x="532.4" y="612.2" width="15.2" height="59.0" fill="#fff" stroke="#333" stroke-width="1.1"/>
<line x1="562.1" y1="593.3" x2="562.1" y2="595.3" stroke="#333" stroke-width="1.3" />
<line x1="558.5" y1="593.3" x2="565.7" y2="593.3" stroke="#333" stroke-width="1.3" />
<rect x="554.4" y="595.3" width="15.4" height="75.9" fill="#97979a" stroke="#6a6a6c" stroke-width="1.1"/>
<line x1="584.2" y1="519.8" x2="584.2" y2="521.2" stroke="#333" stroke-width="1.3" />
<line x1="580.6" y1="519.8" x2="587.9" y2="519.8" stroke="#333" stroke-width="1.3" />
<rect x="577" y="521.2" width="14.5" height="150.0" fill="#363336" stroke="#333" stroke-width="1.1"/>
<line x1="621.1" y1="591.3" x2="621.1" y2="595.2" stroke="#333" stroke-width="1.3" />
<line x1="617.5" y1="591.3" x2="624.7" y2="591.3" stroke="#333" stroke-width="1.3" />
<rect x="613.5" y="595.2" width="15.2" height="76.0" fill="#fff" stroke="#333" stroke-width="1.1"/>
<line x1="643.2" y1="563.4" x2="643.2" y2="567.5" stroke="#333" stroke-width="1.3" />
<line x1="639.6" y1="563.4" x2="646.8" y2="563.4" stroke="#333" stroke-width="1.3" />
<rect x="635.5" y="567.5" width="15.4" height="103.7" fill="#97979a" stroke="#6a6a6c" stroke-width="1.1"/>
<line x1="665.5" y1="519.8" x2="665.5" y2="521.2" stroke="#333" stroke-width="1.3" />
<line x1="661.9" y1="519.8" x2="669.1" y2="519.8" stroke="#333" stroke-width="1.3" />
<rect x="658.1" y="521.2" width="14.8" height="150.0" fill="#363336" stroke="#333" stroke-width="1.1"/>
<line x1="480.7" y1="671.2" x2="480.7" y2="676.3" stroke="#222" stroke-width="1.5" />
<line x1="562.2" y1="671.2" x2="562.2" y2="676.3" stroke="#222" stroke-width="1.5" />
<line x1="643.2" y1="671.2" x2="643.2" y2="676.3" stroke="#222" stroke-width="1.5" />
<line x1="537.0" y1="590.0" x2="563.7" y2="590.0" stroke="#555" stroke-width="1.1" />
<path d="M545.80,585.70L545.80,582.90M545.80,585.70L548.22,584.30M545.80,585.70L548.22,587.10M545.80,585.70L545.80,588.50M545.80,585.70L543.38,584.30M545.80,585.70L543.38,587.10" stroke="#8a8a8a" stroke-width="1.26" stroke-linecap="round"/>
<g fill="#333"><circle cx="545.80" cy="582.90" r="0.75"/><circle cx="548.22" cy="584.30" r="0.75"/><circle cx="548.22" cy="587.10" r="0.75"/><circle cx="545.80" cy="588.50" r="0.75"/><circle cx="543.38" cy="584.30" r="0.75"/><circle cx="543.38" cy="587.10" r="0.75"/></g>
<path d="M554.80,585.70L554.80,582.90M554.80,585.70L557.22,584.30M554.80,585.70L557.22,587.10M554.80,585.70L554.80,588.50M554.80,585.70L552.38,584.30M554.80,585.70L552.38,587.10" stroke="#8a8a8a" stroke-width="1.26" stroke-linecap="round"/>
<g fill="#333"><circle cx="554.80" cy="582.90" r="0.75"/><circle cx="557.22" cy="584.30" r="0.75"/><circle cx="557.22" cy="587.10" r="0.75"/><circle cx="554.80" cy="588.50" r="0.75"/><circle cx="552.38" cy="584.30" r="0.75"/><circle cx="552.38" cy="587.10" r="0.75"/></g>
<line x1="558.0" y1="516.4" x2="584.7" y2="516.4" stroke="#555" stroke-width="1.1" />
<path d="M561.40,512.40L561.40,509.60M561.40,512.40L563.82,511.00M561.40,512.40L563.82,513.80M561.40,512.40L561.40,515.20M561.40,512.40L558.98,511.00M561.40,512.40L558.98,513.80" stroke="#8a8a8a" stroke-width="1.26" stroke-linecap="round"/>
<g fill="#333"><circle cx="561.40" cy="509.60" r="0.75"/><circle cx="563.82" cy="511.00" r="0.75"/><circle cx="563.82" cy="513.80" r="0.75"/><circle cx="561.40" cy="515.20" r="0.75"/><circle cx="558.98" cy="511.00" r="0.75"/><circle cx="558.98" cy="513.80" r="0.75"/></g>
<path d="M570.40,512.40L570.40,509.60M570.40,512.40L572.82,511.00M570.40,512.40L572.82,513.80M570.40,512.40L570.40,515.20M570.40,512.40L567.98,511.00M570.40,512.40L567.98,513.80" stroke="#8a8a8a" stroke-width="1.26" stroke-linecap="round"/>
<g fill="#333"><circle cx="570.40" cy="509.60" r="0.75"/><circle cx="572.82" cy="511.00" r="0.75"/><circle cx="572.82" cy="513.80" r="0.75"/><circle cx="570.40" cy="515.20" r="0.75"/><circle cx="567.98" cy="511.00" r="0.75"/><circle cx="567.98" cy="513.80" r="0.75"/></g>
<path d="M579.40,512.40L579.40,509.60M579.40,512.40L581.82,511.00M579.40,512.40L581.82,513.80M579.40,512.40L579.40,515.20M579.40,512.40L576.98,511.00M579.40,512.40L576.98,513.80" stroke="#8a8a8a" stroke-width="1.26" stroke-linecap="round"/>
<g fill="#333"><circle cx="579.40" cy="509.60" r="0.75"/><circle cx="581.82" cy="511.00" r="0.75"/><circle cx="581.82" cy="513.80" r="0.75"/><circle cx="579.40" cy="515.20" r="0.75"/><circle cx="576.98" cy="511.00" r="0.75"/><circle cx="576.98" cy="513.80" r="0.75"/></g>
<line x1="530.4" y1="505.1" x2="584.7" y2="505.1" stroke="#555" stroke-width="1.1" />
<path d="M549.20,500.10L549.20,497.30M549.20,500.10L551.62,498.70M549.20,500.10L551.62,501.50M549.20,500.10L549.20,502.90M549.20,500.10L546.78,498.70M549.20,500.10L546.78,501.50" stroke="#8a8a8a" stroke-width="1.26" stroke-linecap="round"/>
<g fill="#333"><circle cx="549.20" cy="497.30" r="0.75"/><circle cx="551.62" cy="498.70" r="0.75"/><circle cx="551.62" cy="501.50" r="0.75"/><circle cx="549.20" cy="502.90" r="0.75"/><circle cx="546.78" cy="498.70" r="0.75"/><circle cx="546.78" cy="501.50" r="0.75"/></g>
<path d="M558.20,500.10L558.20,497.30M558.20,500.10L560.62,498.70M558.20,500.10L560.62,501.50M558.20,500.10L558.20,502.90M558.20,500.10L555.78,498.70M558.20,500.10L555.78,501.50" stroke="#8a8a8a" stroke-width="1.26" stroke-linecap="round"/>
<g fill="#333"><circle cx="558.20" cy="497.30" r="0.75"/><circle cx="560.62" cy="498.70" r="0.75"/><circle cx="560.62" cy="501.50" r="0.75"/><circle cx="558.20" cy="502.90" r="0.75"/><circle cx="555.78" cy="498.70" r="0.75"/><circle cx="555.78" cy="501.50" r="0.75"/></g>
<path d="M567.20,500.10L567.20,497.30M567.20,500.10L569.62,498.70M567.20,500.10L569.62,501.50M567.20,500.10L567.20,502.90M567.20,500.10L564.78,498.70M567.20,500.10L564.78,501.50" stroke="#8a8a8a" stroke-width="1.26" stroke-linecap="round"/>
<g fill="#333"><circle cx="567.20" cy="497.30" r="0.75"/><circle cx="569.62" cy="498.70" r="0.75"/><circle cx="569.62" cy="501.50" r="0.75"/><circle cx="567.20" cy="502.90" r="0.75"/><circle cx="564.78" cy="498.70" r="0.75"/><circle cx="564.78" cy="501.50" r="0.75"/></g>
<line x1="618.3" y1="558.4" x2="644.9" y2="558.4" stroke="#555" stroke-width="1.1" />
<path d="M631.60,554.30L631.60,551.50M631.60,554.30L634.02,552.90M631.60,554.30L634.02,555.70M631.60,554.30L631.60,557.10M631.60,554.30L629.18,552.90M631.60,554.30L629.18,555.70" stroke="#8a8a8a" stroke-width="1.26" stroke-linecap="round"/>
<g fill="#333"><circle cx="631.60" cy="551.50" r="0.75"/><circle cx="634.02" cy="552.90" r="0.75"/><circle cx="634.02" cy="555.70" r="0.75"/><circle cx="631.60" cy="557.10" r="0.75"/><circle cx="629.18" cy="552.90" r="0.75"/><circle cx="629.18" cy="555.70" r="0.75"/></g>
<line x1="640.3" y1="517.5" x2="667.1" y2="517.5" stroke="#555" stroke-width="1.1" />
<path d="M644.80,513.40L644.80,510.60M644.80,513.40L647.22,512.00M644.80,513.40L647.22,514.80M644.80,513.40L644.80,516.20M644.80,513.40L642.38,512.00M644.80,513.40L642.38,514.80" stroke="#8a8a8a" stroke-width="1.26" stroke-linecap="round"/>
<g fill="#333"><circle cx="644.80" cy="510.60" r="0.75"/><circle cx="647.22" cy="512.00" r="0.75"/><circle cx="647.22" cy="514.80" r="0.75"/><circle cx="644.80" cy="516.20" r="0.75"/><circle cx="642.38" cy="512.00" r="0.75"/><circle cx="642.38" cy="514.80" r="0.75"/></g>
<path d="M653.80,513.40L653.80,510.60M653.80,513.40L656.22,512.00M653.80,513.40L656.22,514.80M653.80,513.40L653.80,516.20M653.80,513.40L651.38,512.00M653.80,513.40L651.38,514.80" stroke="#8a8a8a" stroke-width="1.26" stroke-linecap="round"/>
<g fill="#333"><circle cx="653.80" cy="510.60" r="0.75"/><circle cx="656.22" cy="512.00" r="0.75"/><circle cx="656.22" cy="514.80" r="0.75"/><circle cx="653.80" cy="516.20" r="0.75"/><circle cx="651.38" cy="512.00" r="0.75"/><circle cx="651.38" cy="514.80" r="0.75"/></g>
<path d="M662.80,513.40L662.80,510.60M662.80,513.40L665.22,512.00M662.80,513.40L665.22,514.80M662.80,513.40L662.80,516.20M662.80,513.40L660.38,512.00M662.80,513.40L660.38,514.80" stroke="#8a8a8a" stroke-width="1.26" stroke-linecap="round"/>
<g fill="#333"><circle cx="662.80" cy="510.60" r="0.75"/><circle cx="665.22" cy="512.00" r="0.75"/><circle cx="665.22" cy="514.80" r="0.75"/><circle cx="662.80" cy="516.20" r="0.75"/><circle cx="660.38" cy="512.00" r="0.75"/><circle cx="660.38" cy="514.80" r="0.75"/></g>
<line x1="612.2" y1="506.3" x2="667.1" y2="506.3" stroke="#555" stroke-width="1.1" />
<path d="M630.50,501.20L630.50,498.40M630.50,501.20L632.92,499.80M630.50,501.20L632.92,502.60M630.50,501.20L630.50,504.00M630.50,501.20L628.08,499.80M630.50,501.20L628.08,502.60" stroke="#8a8a8a" stroke-width="1.26" stroke-linecap="round"/>
<g fill="#333"><circle cx="630.50" cy="498.40" r="0.75"/><circle cx="632.92" cy="499.80" r="0.75"/><circle cx="632.92" cy="502.60" r="0.75"/><circle cx="630.50" cy="504.00" r="0.75"/><circle cx="628.08" cy="499.80" r="0.75"/><circle cx="628.08" cy="502.60" r="0.75"/></g>
<path d="M639.50,501.20L639.50,498.40M639.50,501.20L641.92,499.80M639.50,501.20L641.92,502.60M639.50,501.20L639.50,504.00M639.50,501.20L637.08,499.80M639.50,501.20L637.08,502.60" stroke="#8a8a8a" stroke-width="1.26" stroke-linecap="round"/>
<g fill="#333"><circle cx="639.50" cy="498.40" r="0.75"/><circle cx="641.92" cy="499.80" r="0.75"/><circle cx="641.92" cy="502.60" r="0.75"/><circle cx="639.50" cy="504.00" r="0.75"/><circle cx="637.08" cy="499.80" r="0.75"/><circle cx="637.08" cy="502.60" r="0.75"/></g>
<path d="M648.50,501.20L648.50,498.40M648.50,501.20L650.92,499.80M648.50,501.20L650.92,502.60M648.50,501.20L648.50,504.00M648.50,501.20L646.08,499.80M648.50,501.20L646.08,502.60" stroke="#8a8a8a" stroke-width="1.26" stroke-linecap="round"/>
<g fill="#333"><circle cx="648.50" cy="498.40" r="0.75"/><circle cx="650.92" cy="499.80" r="0.75"/><circle cx="650.92" cy="502.60" r="0.75"/><circle cx="648.50" cy="504.00" r="0.75"/><circle cx="646.08" cy="499.80" r="0.75"/><circle cx="646.08" cy="502.60" r="0.75"/></g>
<rect x="444.4" y="541.2" width="19.4" height="9.2" fill="#fff" stroke="#333" stroke-width="1.1"/>
<rect x="444.4" y="557.6" width="19.4" height="8.2" fill="#97979a" stroke="#6a6a6c" stroke-width="1.1"/>
<rect x="444.4" y="572.9" width="19.4" height="8.2" fill="#363336" stroke="#333" stroke-width="1.1"/>
<line x1="65.4" y1="763.5" x2="65.4" y2="933.2" stroke="#222" stroke-width="1.8" />
<line x1="64.5" y1="932.3" x2="302.5" y2="932.3" stroke="#222" stroke-width="1.8" />
<line x1="60.5" y1="932.3" x2="65.4" y2="932.3" stroke="#222" stroke-width="1.5" />
<line x1="60.5" y1="898.7" x2="65.4" y2="898.7" stroke="#222" stroke-width="1.5" />
<line x1="60.5" y1="865.0" x2="65.4" y2="865.0" stroke="#222" stroke-width="1.5" />
<line x1="60.5" y1="831.4" x2="65.4" y2="831.4" stroke="#222" stroke-width="1.5" />
<line x1="60.5" y1="797.7" x2="65.4" y2="797.7" stroke="#222" stroke-width="1.5" />
<line x1="60.5" y1="764.1" x2="65.4" y2="764.1" stroke="#222" stroke-width="1.5" />
<line x1="65.5" y1="932.3" x2="65.5" y2="936.3" stroke="#222" stroke-width="1.5" />
<line x1="95.1" y1="932.3" x2="95.1" y2="936.3" stroke="#222" stroke-width="1.5" />
<line x1="124.8" y1="932.3" x2="124.8" y2="936.3" stroke="#222" stroke-width="1.5" />
<line x1="154.4" y1="932.3" x2="154.4" y2="936.3" stroke="#222" stroke-width="1.5" />
<line x1="184.0" y1="932.3" x2="184.0" y2="936.3" stroke="#222" stroke-width="1.5" />
<line x1="213.6" y1="932.3" x2="213.6" y2="936.3" stroke="#222" stroke-width="1.5" />
<line x1="243.2" y1="932.3" x2="243.2" y2="936.3" stroke="#222" stroke-width="1.5" />
<line x1="272.9" y1="932.3" x2="272.9" y2="936.3" stroke="#222" stroke-width="1.5" />
<line x1="302.5" y1="932.3" x2="302.5" y2="936.3" stroke="#222" stroke-width="1.5" />
<line x1="92.2" y1="811.0" x2="92.2" y2="830.3" stroke="#333" stroke-width="1.2" />
<line x1="88.2" y1="811.0" x2="96.2" y2="811.0" stroke="#333" stroke-width="1.2" />
<line x1="88.2" y1="830.3" x2="96.2" y2="830.3" stroke="#333" stroke-width="1.2" />
<line x1="136.6" y1="875.8" x2="136.6" y2="895.0" stroke="#333" stroke-width="1.2" />
<line x1="132.6" y1="875.8" x2="140.6" y2="875.8" stroke="#333" stroke-width="1.2" />
<line x1="132.6" y1="895.0" x2="140.6" y2="895.0" stroke="#333" stroke-width="1.2" />
<line x1="142.5" y1="877.6" x2="142.5" y2="898.6" stroke="#333" stroke-width="1.2" />
<line x1="138.5" y1="877.6" x2="146.5" y2="877.6" stroke="#333" stroke-width="1.2" />
<line x1="138.5" y1="898.6" x2="146.5" y2="898.6" stroke="#333" stroke-width="1.2" />
<line x1="160.3" y1="887.6" x2="160.3" y2="898.6" stroke="#333" stroke-width="1.2" />
<line x1="156.3" y1="887.6" x2="164.3" y2="887.6" stroke="#333" stroke-width="1.2" />
<line x1="156.3" y1="898.6" x2="164.3" y2="898.6" stroke="#333" stroke-width="1.2" />
<line x1="92.2" y1="805.4" x2="92.2" y2="826.0" stroke="#333" stroke-width="1.2" />
<line x1="88.2" y1="805.4" x2="96.2" y2="805.4" stroke="#333" stroke-width="1.2" />
<line x1="88.2" y1="826.0" x2="96.2" y2="826.0" stroke="#333" stroke-width="1.2" />
<line x1="136.6" y1="812.3" x2="136.6" y2="850.1" stroke="#333" stroke-width="1.2" />
<line x1="132.6" y1="812.3" x2="140.6" y2="812.3" stroke="#333" stroke-width="1.2" />
<line x1="132.6" y1="850.1" x2="140.6" y2="850.1" stroke="#333" stroke-width="1.2" />
<line x1="142.5" y1="810.7" x2="142.5" y2="847.4" stroke="#333" stroke-width="1.2" />
<line x1="138.5" y1="810.7" x2="146.5" y2="810.7" stroke="#333" stroke-width="1.2" />
<line x1="138.5" y1="847.4" x2="146.5" y2="847.4" stroke="#333" stroke-width="1.2" />
<line x1="160.3" y1="811.7" x2="160.3" y2="856.6" stroke="#333" stroke-width="1.2" />
<line x1="156.3" y1="811.7" x2="164.3" y2="811.7" stroke="#333" stroke-width="1.2" />
<line x1="156.3" y1="856.6" x2="164.3" y2="856.6" stroke="#333" stroke-width="1.2" />
<line x1="210.7" y1="840.7" x2="210.7" y2="870.9" stroke="#333" stroke-width="1.2" />
<line x1="206.7" y1="840.7" x2="214.7" y2="840.7" stroke="#333" stroke-width="1.2" />
<line x1="206.7" y1="870.9" x2="214.7" y2="870.9" stroke="#333" stroke-width="1.2" />
<line x1="216.6" y1="842.3" x2="216.6" y2="873.0" stroke="#333" stroke-width="1.2" />
<line x1="212.6" y1="842.3" x2="220.6" y2="842.3" stroke="#333" stroke-width="1.2" />
<line x1="212.6" y1="873.0" x2="220.6" y2="873.0" stroke="#333" stroke-width="1.2" />
<line x1="278.8" y1="820.5" x2="278.8" y2="868.9" stroke="#333" stroke-width="1.2" />
<line x1="274.8" y1="820.5" x2="282.8" y2="820.5" stroke="#333" stroke-width="1.2" />
<line x1="274.8" y1="868.9" x2="282.8" y2="868.9" stroke="#333" stroke-width="1.2" />
<polyline points="65.5,791.4 71.4,794.2 77.3,802.2 83.3,796.6 92.2,820.7 136.6,885.5 142.5,887.6 160.3,893.4 210.7,898.9 216.6,898.9" fill="none" stroke="#333" stroke-width="1.2" stroke-linejoin="miter" />
<line x1="216.6" y1="898.9" x2="278.8" y2="898.9" stroke="#777" stroke-width="1.2" />
<polyline points="65.5,796.6 71.4,799.0 77.3,799.0 83.3,800.1 92.2,815.8 136.6,830.7 142.5,828.6 160.3,834.6 210.7,855.6 216.6,857.7 278.8,844.6" fill="none" stroke="#333" stroke-width="1.2" stroke-linejoin="miter" />
<rect x="62.0" y="787.9" width="7" height="7" fill="#2a2a2a" stroke="#222" stroke-width="1"/>
<rect x="67.9" y="790.7" width="7" height="7" fill="#2a2a2a" stroke="#222" stroke-width="1"/>
<rect x="73.8" y="798.7" width="7" height="7" fill="#2a2a2a" stroke="#222" stroke-width="1"/>
<rect x="79.8" y="793.1" width="7" height="7" fill="#2a2a2a" stroke="#222" stroke-width="1"/>
<rect x="88.7" y="817.2" width="7" height="7" fill="#2a2a2a" stroke="#222" stroke-width="1"/>
<rect x="133.1" y="882.0" width="7" height="7" fill="#2a2a2a" stroke="#222" stroke-width="1"/>
<rect x="139.0" y="884.1" width="7" height="7" fill="#2a2a2a" stroke="#222" stroke-width="1"/>
<rect x="156.8" y="889.9" width="7" height="7" fill="#2a2a2a" stroke="#222" stroke-width="1"/>
<rect x="207.2" y="895.4" width="7" height="7" fill="#2a2a2a" stroke="#222" stroke-width="1"/>
<rect x="213.1" y="895.4" width="7" height="7" fill="#2a2a2a" stroke="#222" stroke-width="1"/>
<rect x="275.3" y="895.4" width="7" height="7" fill="#2a2a2a" stroke="#222" stroke-width="1"/>
<rect x="62.0" y="793.1" width="7" height="7" fill="#fff" stroke="#333" stroke-width="1"/>
<rect x="67.9" y="795.5" width="7" height="7" fill="#fff" stroke="#333" stroke-width="1"/>
<rect x="73.8" y="795.5" width="7" height="7" fill="#fff" stroke="#333" stroke-width="1"/>
<rect x="79.8" y="796.6" width="7" height="7" fill="#fff" stroke="#333" stroke-width="1"/>
<rect x="88.7" y="812.3" width="7" height="7" fill="#fff" stroke="#333" stroke-width="1"/>
<rect x="133.1" y="827.2" width="7" height="7" fill="#fff" stroke="#333" stroke-width="1"/>
<rect x="139.0" y="825.1" width="7" height="7" fill="#fff" stroke="#333" stroke-width="1"/>
<rect x="156.8" y="831.1" width="7" height="7" fill="#fff" stroke="#333" stroke-width="1"/>
<rect x="207.2" y="852.1" width="7" height="7" fill="#fff" stroke="#333" stroke-width="1"/>
<rect x="213.1" y="854.2" width="7" height="7" fill="#fff" stroke="#333" stroke-width="1"/>
<rect x="275.3" y="841.1" width="7" height="7" fill="#fff" stroke="#333" stroke-width="1"/>
<path d="M135.80,806.60L135.80,804.20M135.80,806.60L137.88,805.40M135.80,806.60L137.88,807.80M135.80,806.60L135.80,809.00M135.80,806.60L133.72,805.40M135.80,806.60L133.72,807.80" stroke="#8a8a8a" stroke-width="1.26" stroke-linecap="round"/>
<g fill="#333"><circle cx="135.80" cy="804.20" r="0.75"/><circle cx="137.88" cy="805.40" r="0.75"/><circle cx="137.88" cy="807.80" r="0.75"/><circle cx="135.80" cy="809.00" r="0.75"/><circle cx="133.72" cy="805.40" r="0.75"/><circle cx="133.72" cy="807.80" r="0.75"/></g>
<path d="M138.25,797.40L138.25,795.00M138.25,797.40L140.33,796.20M138.25,797.40L140.33,798.60M138.25,797.40L138.25,799.80M138.25,797.40L136.17,796.20M138.25,797.40L136.17,798.60" stroke="#8a8a8a" stroke-width="1.26" stroke-linecap="round"/>
<g fill="#333"><circle cx="138.25" cy="795.00" r="0.75"/><circle cx="140.33" cy="796.20" r="0.75"/><circle cx="140.33" cy="798.60" r="0.75"/><circle cx="138.25" cy="799.80" r="0.75"/><circle cx="136.17" cy="796.20" r="0.75"/><circle cx="136.17" cy="798.60" r="0.75"/></g>
<path d="M145.55,797.40L145.55,795.00M145.55,797.40L147.63,796.20M145.55,797.40L147.63,798.60M145.55,797.40L145.55,799.80M145.55,797.40L143.47,796.20M145.55,797.40L143.47,798.60" stroke="#8a8a8a" stroke-width="1.26" stroke-linecap="round"/>
<g fill="#333"><circle cx="145.55" cy="795.00" r="0.75"/><circle cx="147.63" cy="796.20" r="0.75"/><circle cx="147.63" cy="798.60" r="0.75"/><circle cx="145.55" cy="799.80" r="0.75"/><circle cx="143.47" cy="796.20" r="0.75"/><circle cx="143.47" cy="798.60" r="0.75"/></g>
<path d="M155.65,805.50L155.65,803.10M155.65,805.50L157.73,804.30M155.65,805.50L157.73,806.70M155.65,805.50L155.65,807.90M155.65,805.50L153.57,804.30M155.65,805.50L153.57,806.70" stroke="#8a8a8a" stroke-width="1.26" stroke-linecap="round"/>
<g fill="#333"><circle cx="155.65" cy="803.10" r="0.75"/><circle cx="157.73" cy="804.30" r="0.75"/><circle cx="157.73" cy="806.70" r="0.75"/><circle cx="155.65" cy="807.90" r="0.75"/><circle cx="153.57" cy="804.30" r="0.75"/><circle cx="153.57" cy="806.70" r="0.75"/></g>
<path d="M162.95,805.50L162.95,803.10M162.95,805.50L165.03,804.30M162.95,805.50L165.03,806.70M162.95,805.50L162.95,807.90M162.95,805.50L160.87,804.30M162.95,805.50L160.87,806.70" stroke="#8a8a8a" stroke-width="1.26" stroke-linecap="round"/>
<g fill="#333"><circle cx="162.95" cy="803.10" r="0.75"/><circle cx="165.03" cy="804.30" r="0.75"/><circle cx="165.03" cy="806.70" r="0.75"/><circle cx="162.95" cy="807.90" r="0.75"/><circle cx="160.87" cy="804.30" r="0.75"/><circle cx="160.87" cy="806.70" r="0.75"/></g>
<path d="M278.80,815.00L278.80,812.60M278.80,815.00L280.88,813.80M278.80,815.00L280.88,816.20M278.80,815.00L278.80,817.40M278.80,815.00L276.72,813.80M278.80,815.00L276.72,816.20" stroke="#8a8a8a" stroke-width="1.26" stroke-linecap="round"/>
<g fill="#333"><circle cx="278.80" cy="812.60" r="0.75"/><circle cx="280.88" cy="813.80" r="0.75"/><circle cx="280.88" cy="816.20" r="0.75"/><circle cx="278.80" cy="817.40" r="0.75"/><circle cx="276.72" cy="813.80" r="0.75"/><circle cx="276.72" cy="816.20" r="0.75"/></g>
<line x1="185.3" y1="767.5" x2="202.4" y2="767.5" stroke="#333" stroke-width="1.2" />
<rect x="190.1" y="764.0" width="7" height="7" fill="#2a2a2a" stroke="#222" stroke-width="1"/>
<line x1="185.3" y1="787.2" x2="202.4" y2="787.2" stroke="#333" stroke-width="1.2" />
<rect x="190.1" y="783.7" width="7" height="7" fill="#fff" stroke="#333" stroke-width="1"/>
<line x1="435.3" y1="786.5" x2="435.3" y2="943.0" stroke="#222" stroke-width="1.8" />
<line x1="434.4" y1="941.8" x2="654.5" y2="941.8" stroke="#2a2a2a" stroke-width="1.7" />
<line x1="430.5" y1="942.0" x2="435.3" y2="942.0" stroke="#222" stroke-width="1.5" />
<line x1="430.5" y1="922.7" x2="435.3" y2="922.7" stroke="#222" stroke-width="1.5" />
<line x1="430.5" y1="903.3" x2="435.3" y2="903.3" stroke="#222" stroke-width="1.5" />
<line x1="430.5" y1="884.0" x2="435.3" y2="884.0" stroke="#222" stroke-width="1.5" />
<line x1="430.5" y1="864.7" x2="435.3" y2="864.7" stroke="#222" stroke-width="1.5" />
<line x1="430.5" y1="845.4" x2="435.3" y2="845.4" stroke="#222" stroke-width="1.5" />
<line x1="430.5" y1="826.0" x2="435.3" y2="826.0" stroke="#222" stroke-width="1.5" />
<line x1="430.5" y1="806.7" x2="435.3" y2="806.7" stroke="#222" stroke-width="1.5" />
<line x1="430.5" y1="787.4" x2="435.3" y2="787.4" stroke="#222" stroke-width="1.5" />
<line x1="472.2" y1="875.3" x2="472.2" y2="879.6" stroke="#444" stroke-width="1.3" />
<line x1="460.1" y1="875.3" x2="484.4" y2="875.3" stroke="#444" stroke-width="1.3" />
<rect x="447.9" y="879.6" width="48.5" height="62.2" fill="#fff" stroke="#8a8a8a" stroke-width="1.2"/>
<line x1="472.2" y1="942.0" x2="472.2" y2="947.3" stroke="#222" stroke-width="1.5" />
<line x1="545.1" y1="844.6" x2="545.1" y2="849.6" stroke="#444" stroke-width="1.3" />
<line x1="532.8" y1="844.6" x2="557.3" y2="844.6" stroke="#444" stroke-width="1.3" />
<rect x="520.7" y="849.6" width="48.9" height="92.2" fill="#939497" stroke="#666" stroke-width="1.2"/>
<line x1="545.1" y1="942.0" x2="545.1" y2="947.3" stroke="#222" stroke-width="1.5" />
<line x1="617.8" y1="803.1" x2="617.8" y2="806.3" stroke="#444" stroke-width="1.3" />
<line x1="606.0" y1="803.1" x2="630.1" y2="803.1" stroke="#444" stroke-width="1.3" />
<rect x="593.2" y="806.3" width="49.1" height="135.5" fill="#363336" stroke="#333" stroke-width="1.2"/>
<line x1="617.8" y1="942.0" x2="617.8" y2="947.3" stroke="#222" stroke-width="1.5" />
<line x1="465.7" y1="781.9" x2="618.9" y2="781.9" stroke="#555" stroke-width="1.2" />
<path d="M537.60,775.40L537.60,773.08M537.60,775.40L539.61,774.24M537.60,775.40L539.61,776.56M537.60,775.40L537.60,777.72M537.60,775.40L535.59,774.24M537.60,775.40L535.59,776.56" stroke="#8a8a8a" stroke-width="1.26" stroke-linecap="round"/>
<g fill="#333"><circle cx="537.60" cy="773.08" r="0.75"/><circle cx="539.61" cy="774.24" r="0.75"/><circle cx="539.61" cy="776.56" r="0.75"/><circle cx="537.60" cy="777.72" r="0.75"/><circle cx="535.59" cy="774.24" r="0.75"/><circle cx="535.59" cy="776.56" r="0.75"/></g>
<path d="M544.80,775.40L544.80,773.08M544.80,775.40L546.81,774.24M544.80,775.40L546.81,776.56M544.80,775.40L544.80,777.72M544.80,775.40L542.79,774.24M544.80,775.40L542.79,776.56" stroke="#8a8a8a" stroke-width="1.26" stroke-linecap="round"/>
<g fill="#333"><circle cx="544.80" cy="773.08" r="0.75"/><circle cx="546.81" cy="774.24" r="0.75"/><circle cx="546.81" cy="776.56" r="0.75"/><circle cx="544.80" cy="777.72" r="0.75"/><circle cx="542.79" cy="774.24" r="0.75"/><circle cx="542.79" cy="776.56" r="0.75"/></g>
<path d="M552.00,775.40L552.00,773.08M552.00,775.40L554.01,774.24M552.00,775.40L554.01,776.56M552.00,775.40L552.00,777.72M552.00,775.40L549.99,774.24M552.00,775.40L549.99,776.56" stroke="#8a8a8a" stroke-width="1.26" stroke-linecap="round"/>
<g fill="#333"><circle cx="552.00" cy="773.08" r="0.75"/><circle cx="554.01" cy="774.24" r="0.75"/><circle cx="554.01" cy="776.56" r="0.75"/><circle cx="552.00" cy="777.72" r="0.75"/><circle cx="549.99" cy="774.24" r="0.75"/><circle cx="549.99" cy="776.56" r="0.75"/></g>
<line x1="545.3" y1="799.0" x2="618.9" y2="799.0" stroke="#555" stroke-width="1.2" />
<path d="M575.50,793.60L575.50,791.28M575.50,793.60L577.51,792.44M575.50,793.60L577.51,794.76M575.50,793.60L575.50,795.92M575.50,793.60L573.49,792.44M575.50,793.60L573.49,794.76" stroke="#8a8a8a" stroke-width="1.26" stroke-linecap="round"/>
<g fill="#333"><circle cx="575.50" cy="791.28" r="0.75"/><circle cx="577.51" cy="792.44" r="0.75"/><circle cx="577.51" cy="794.76" r="0.75"/><circle cx="575.50" cy="795.92" r="0.75"/><circle cx="573.49" cy="792.44" r="0.75"/><circle cx="573.49" cy="794.76" r="0.75"/></g>
<path d="M582.80,793.60L582.80,791.28M582.80,793.60L584.81,792.44M582.80,793.60L584.81,794.76M582.80,793.60L582.80,795.92M582.80,793.60L580.79,792.44M582.80,793.60L580.79,794.76" stroke="#8a8a8a" stroke-width="1.26" stroke-linecap="round"/>
<g fill="#333"><circle cx="582.80" cy="791.28" r="0.75"/><circle cx="584.81" cy="792.44" r="0.75"/><circle cx="584.81" cy="794.76" r="0.75"/><circle cx="582.80" cy="795.92" r="0.75"/><circle cx="580.79" cy="792.44" r="0.75"/><circle cx="580.79" cy="794.76" r="0.75"/></g>
<path d="M590.10,793.60L590.10,791.28M590.10,793.60L592.11,792.44M590.10,793.60L592.11,794.76M590.10,793.60L590.10,795.92M590.10,793.60L588.09,792.44M590.10,793.60L588.09,794.76" stroke="#8a8a8a" stroke-width="1.26" stroke-linecap="round"/>
<g fill="#333"><circle cx="590.10" cy="791.28" r="0.75"/><circle cx="592.11" cy="792.44" r="0.75"/><circle cx="592.11" cy="794.76" r="0.75"/><circle cx="590.10" cy="795.92" r="0.75"/><circle cx="588.09" cy="792.44" r="0.75"/><circle cx="588.09" cy="794.76" r="0.75"/></g>
<line x1="471.1" y1="840.2" x2="546.2" y2="840.2" stroke="#555" stroke-width="1.2" />
<path d="M505.40,834.20L505.40,831.88M505.40,834.20L507.41,833.04M505.40,834.20L507.41,835.36M505.40,834.20L505.40,836.52M505.40,834.20L503.39,833.04M505.40,834.20L503.39,835.36" stroke="#8a8a8a" stroke-width="1.26" stroke-linecap="round"/>
<g fill="#333"><circle cx="505.40" cy="831.88" r="0.75"/><circle cx="507.41" cy="833.04" r="0.75"/><circle cx="507.41" cy="835.36" r="0.75"/><circle cx="505.40" cy="836.52" r="0.75"/><circle cx="503.39" cy="833.04" r="0.75"/><circle cx="503.39" cy="835.36" r="0.75"/></g>
<path d="M512.60,834.20L512.60,831.88M512.60,834.20L514.61,833.04M512.60,834.20L514.61,835.36M512.60,834.20L512.60,836.52M512.60,834.20L510.59,833.04M512.60,834.20L510.59,835.36" stroke="#8a8a8a" stroke-width="1.26" stroke-linecap="round"/>
<g fill="#333"><circle cx="512.60" cy="831.88" r="0.75"/><circle cx="514.61" cy="833.04" r="0.75"/><circle cx="514.61" cy="835.36" r="0.75"/><circle cx="512.60" cy="836.52" r="0.75"/><circle cx="510.59" cy="833.04" r="0.75"/><circle cx="510.59" cy="835.36" r="0.75"/></g>
<g style="filter:grayscale(1)"><text x="0.5" y="25.8" font-size="17" font-family="Liberation Serif" font-weight="bold" fill="#222" text-anchor="start" >A</text><text x="77.9" y="187.4" font-size="10" font-family="Liberation Sans" fill="#2a2a2a" text-anchor="end" textLength="12.2" lengthAdjust="spacingAndGlyphs">0.0</text><text x="77.9" y="163.4" font-size="10" font-family="Liberation Sans" fill="#2a2a2a" text-anchor="end" textLength="12.2" lengthAdjust="spacingAndGlyphs">0.5</text><text x="77.9" y="139.4" font-size="10" font-family="Liberation Sans" fill="#2a2a2a" text-anchor="end" textLength="12.2" lengthAdjust="spacingAndGlyphs">1.0</text><text x="77.9" y="115.4" font-size="10" font-family="Liberation Sans" fill="#2a2a2a" text-anchor="end" textLength="12.2" lengthAdjust="spacingAndGlyphs">1.5</text><text x="77.9" y="91.4" font-size="10" font-family="Liberation Sans" fill="#2a2a2a" text-anchor="end" textLength="12.2" lengthAdjust="spacingAndGlyphs">2.0</text><text x="77.9" y="67.4" font-size="10" font-family="Liberation Sans" fill="#2a2a2a" text-anchor="end" textLength="12.2" lengthAdjust="spacingAndGlyphs">2.5</text><text x="77.9" y="43.4" font-size="10" font-family="Liberation Sans" fill="#2a2a2a" text-anchor="end" textLength="12.2" lengthAdjust="spacingAndGlyphs">3.0</text><text x="77.9" y="19.4" font-size="10" font-family="Liberation Sans" fill="#2a2a2a" text-anchor="end" textLength="12.2" lengthAdjust="spacingAndGlyphs">3.5</text><text transform="translate(37.0,104.8) rotate(-90)" x="0" y="0" font-size="14.2" font-family="Liberation Sans" fill="#333" text-anchor="middle" >-log10(P)</text><text x="112.4" y="202.8" font-size="7.5" font-family="Liberation Sans" fill="#222" text-anchor="middle" >1</text><text x="153.2" y="202.8" font-size="7.5" font-family="Liberation Sans" fill="#222" text-anchor="middle" >2</text><text x="180.7" y="202.8" font-size="7.5" font-family="Liberation Sans" fill="#222" text-anchor="middle" >3</text><text x="201.6" y="202.8" font-size="7.5" font-family="Liberation Sans" fill="#222" text-anchor="middle" >4</text><text x="229.9" y="202.8" font-size="7.5" font-family="Liberation Sans" fill="#222" text-anchor="middle" >5</text><text x="258.9" y="202.8" font-size="7.5" font-family="Liberation Sans" fill="#222" text-anchor="middle" >6</text><text x="286.2" y="202.8" font-size="7.5" font-family="Liberation Sans" fill="#222" text-anchor="middle" >7</text><text x="313.1" y="202.8" font-size="7.5" font-family="Liberation Sans" fill="#222" text-anchor="middle" >8</text><text x="334.8" y="202.8" font-size="7.5" font-family="Liberation Sans" fill="#222" text-anchor="middle" >9</text><text x="359.2" y="202.8" font-size="7.5" font-family="Liberation Sans" fill="#222" text-anchor="middle" >10</text><text x="386.2" y="202.8" font-size="7.5" font-family="Liberation Sans" fill="#222" text-anchor="middle" >11</text><text x="408.4" y="202.8" font-size="7.5" font-family="Liberation Sans" fill="#222" text-anchor="middle" >12</text><text x="432.7" y="202.8" font-size="7.5" font-family="Liberation Sans" fill="#222" text-anchor="middle" >13</text><text x="459.6" y="202.8" font-size="7.5" font-family="Liberation Sans" fill="#222" text-anchor="middle" >14</text><text x="482.5" y="202.8" font-size="7.5" font-family="Liberation Sans" fill="#222" text-anchor="middle" >15</text><text x="508.5" y="202.8" font-size="7.5" font-family="Liberation Sans" fill="#222" text-anchor="middle" >16</text><text x="532.2" y="202.8" font-size="7.5" font-family="Liberation Sans" fill="#222" text-anchor="middle" >17</text><text x="549.3" y="202.8" font-size="7.5" font-family="Liberation Sans" fill="#222" text-anchor="middle" >18</text><text x="570.6" y="202.8" font-size="7.5" font-family="Liberation Sans" fill="#222" text-anchor="middle" >19</text><text x="599.3" y="203.5" font-size="8" font-family="Liberation Serif" fill="#333" text-anchor="middle" >X</text><text x="308.0" y="229.9" font-size="14" font-family="Liberation Sans" fill="#333" text-anchor="start" textLength="91.5" lengthAdjust="spacingAndGlyphs">Chromosomes</text><text x="-0.5" y="259.6" font-size="17" font-family="Liberation Serif" font-weight="bold" fill="#222" text-anchor="start" >B</text><text x="57.0" y="432.3" font-size="11" font-family="Liberation Serif" font-weight="bold" fill="#222" text-anchor="end" >15</text><text x="57.0" y="398.9" font-size="11" font-family="Liberation Serif" font-weight="bold" fill="#222" text-anchor="end" >20</text><text x="57.0" y="365.4" font-size="11" font-family="Liberation Serif" font-weight="bold" fill="#222" text-anchor="end" >25</text><text x="57.0" y="331.9" font-size="11" font-family="Liberation Serif" font-weight="bold" fill="#222" text-anchor="end" >30</text><text x="57.0" y="298.5" font-size="11" font-family="Liberation Serif" font-weight="bold" fill="#222" text-anchor="end" >35</text><text x="57.0" y="265.1" font-size="11" font-family="Liberation Serif" font-weight="bold" fill="#222" text-anchor="end" >40</text><text x="62.6" y="446.0" font-size="11" font-family="Liberation Serif" font-weight="bold" fill="#222" text-anchor="middle" >0</text><text x="110.2" y="446.0" font-size="11" font-family="Liberation Serif" font-weight="bold" fill="#222" text-anchor="middle" >5</text><text x="157.8" y="446.0" font-size="11" font-family="Liberation Serif" font-weight="bold" fill="#222" text-anchor="middle" >10</text><text x="205.4" y="446.0" font-size="11" font-family="Liberation Serif" font-weight="bold" fill="#222" text-anchor="middle" >15</text><text x="253.0" y="446.0" font-size="11" font-family="Liberation Serif" font-weight="bold" fill="#222" text-anchor="middle" >20</text><text x="300.6" y="446.0" font-size="11" font-family="Liberation Serif" font-weight="bold" fill="#222" text-anchor="middle" >25</text><text transform="translate(28.9,415.2) rotate(-90)" x="0" y="0" font-size="14.6" font-family="Liberation Serif" font-weight="bold" fill="#222" text-anchor="start" textLength="112.3" lengthAdjust="spacingAndGlyphs">Body tem<tspan dx="1">perature</tspan></text><text transform="translate(28.9,300.6) rotate(-90)" x="0" y="0" font-size="14.6" font-family="Liberation Serif" fill="#222" text-anchor="start" textLength="25.4" lengthAdjust="spacingAndGlyphs">( °<tspan font-weight="bold">C</tspan>)</text><text x="106.2" y="466.7" font-size="15" font-family="Liberation Serif" font-weight="bold" fill="#222" text-anchor="start" textLength="150.6" lengthAdjust="spacingAndGlyphs">Hours after LPS injection</text><text x="97.8" y="391.5" font-size="11.4" font-family="Liberation Serif" font-weight="bold" fill="#222" text-anchor="start" textLength="79" lengthAdjust="spacingAndGlyphs">(BxS)F1 females</text><text x="97.8" y="408.4" font-size="11.4" font-family="Liberation Serif" font-weight="bold" fill="#222" text-anchor="start" textLength="67" lengthAdjust="spacingAndGlyphs">(BxS)F1 males</text><text x="97.8" y="425.2" font-size="11.4" font-family="Liberation Serif" font-weight="bold" fill="#222" text-anchor="start" textLength="41" lengthAdjust="spacingAndGlyphs">C57BL/6</text><text x="382.5" y="259.8" font-size="17" font-family="Liberation Serif" font-weight="bold" fill="#222" text-anchor="start" >C</text><text x="429.6" y="428.9" font-size="10.6" font-family="Liberation Serif" font-weight="bold" fill="#222" text-anchor="end">10</text><text x="430.8" y="424.3" font-size="6.5" font-family="Liberation Serif" font-weight="bold" fill="#222">2</text><text x="429.6" y="403.5" font-size="10.6" font-family="Liberation Serif" font-weight="bold" fill="#222" text-anchor="end">10</text><text x="430.8" y="398.9" font-size="6.5" font-family="Liberation Serif" font-weight="bold" fill="#222">3</text><text x="429.6" y="378.1" font-size="10.6" font-family="Liberation Serif" font-weight="bold" fill="#222" text-anchor="end">10</text><text x="430.8" y="373.5" font-size="6.5" font-family="Liberation Serif" font-weight="bold" fill="#222">4</text><text x="429.6" y="352.7" font-size="10.6" font-family="Liberation Serif" font-weight="bold" fill="#222" text-anchor="end">10</text><text x="430.8" y="348.1" font-size="6.5" font-family="Liberation Serif" font-weight="bold" fill="#222">5</text><text x="429.6" y="327.3" font-size="10.6" font-family="Liberation Serif" font-weight="bold" fill="#222" text-anchor="end">10</text><text x="430.8" y="322.7" font-size="6.5" font-family="Liberation Serif" font-weight="bold" fill="#222">6</text><text x="429.6" y="301.9" font-size="10.6" font-family="Liberation Serif" font-weight="bold" fill="#222" text-anchor="end">10</text><text x="430.8" y="297.3" font-size="6.5" font-family="Liberation Serif" font-weight="bold" fill="#222">7</text><text x="429.6" y="276.5" font-size="10.6" font-family="Liberation Serif" font-weight="bold" fill="#222" text-anchor="end">10</text><text x="430.8" y="271.9" font-size="6.5" font-family="Liberation Serif" font-weight="bold" fill="#222">8</text><text transform="translate(407.6,397.4) rotate(-90)" x="0" y="0" font-size="13" font-family="Liberation Serif" font-weight="bold" fill="#222" text-anchor="start" textLength="20" lengthAdjust="spacingAndGlyphs">Log</text><text transform="translate(411.0,375.6) rotate(-90)" x="0" y="0" font-size="9.5" font-family="Liberation Serif" font-weight="bold" fill="#222" text-anchor="start" textLength="9.6" lengthAdjust="spacingAndGlyphs">10</text><text transform="translate(407.6,362.4) rotate(-90)" x="0" y="0" font-size="13" font-family="Liberation Serif" font-weight="bold" fill="#222" text-anchor="start" textLength="22.2" lengthAdjust="spacingAndGlyphs">IL6</text><text transform="translate(407.6,339.4) rotate(-90)" x="0" y="0" font-size="13" font-family="Liberation Serif" font-weight="bold" fill="#222" text-anchor="start" textLength="40.8" lengthAdjust="spacingAndGlyphs">(pg/ml)</text><text x="478.1" y="440.4" font-size="11.5" font-family="Liberation Serif" font-weight="bold" fill="#222" text-anchor="middle" textLength="48.2" lengthAdjust="spacingAndGlyphs">F1 females</text><text x="554.2" y="440.4" font-size="11.5" font-family="Liberation Serif" font-weight="bold" fill="#222" text-anchor="middle" textLength="38.6" lengthAdjust="spacingAndGlyphs">F1 males</text><text x="631.0" y="440.3" font-size="11.5" font-family="Liberation Serif" font-weight="bold" fill="#222" text-anchor="middle" textLength="40.5" lengthAdjust="spacingAndGlyphs">C57BL/6</text><text x="0.5" y="493.7" font-size="17" font-family="Liberation Serif" font-weight="bold" fill="#222" text-anchor="start" >D</text><text x="58.0" y="674.8" font-size="11" font-family="Liberation Serif" font-weight="bold" fill="#222" text-anchor="end" >0</text><text x="58.0" y="642.1" font-size="11" font-family="Liberation Serif" font-weight="bold" fill="#222" text-anchor="end" >1</text><text x="58.0" y="609.4" font-size="11" font-family="Liberation Serif" font-weight="bold" fill="#222" text-anchor="end" >2</text><text x="58.0" y="576.7" font-size="11" font-family="Liberation Serif" font-weight="bold" fill="#222" text-anchor="end" >3</text><text x="58.0" y="544.0" font-size="11" font-family="Liberation Serif" font-weight="bold" fill="#222" text-anchor="end" >4</text><text x="58.0" y="511.3" font-size="11" font-family="Liberation Serif" font-weight="bold" fill="#222" text-anchor="end" >5</text><text transform="translate(43.6,591.0) rotate(-90)" x="0" y="0" font-size="14" font-family="Liberation Serif" font-weight="bold" fill="#222" text-anchor="middle" textLength="147" lengthAdjust="spacingAndGlyphs">F1 male / F1 female ratio</text><text transform="translate(75.9,687.6) rotate(-45)" x="0" y="0" font-size="11.6" font-family="Liberation Serif" font-weight="bold" fill="#222" text-anchor="end" >IL-1α</text><text transform="translate(94.1,687.6) rotate(-45)" x="0" y="0" font-size="11.6" font-family="Liberation Serif" font-weight="bold" fill="#222" text-anchor="end" >IL-1β</text><text transform="translate(112.2,687.6) rotate(-45)" x="0" y="0" font-size="11.6" font-family="Liberation Serif" font-weight="bold" fill="#222" text-anchor="end" >IL-2</text><text transform="translate(130.4,687.6) rotate(-45)" x="0" y="0" font-size="11.6" font-family="Liberation Serif" font-weight="bold" fill="#222" text-anchor="end" >IL-3</text><text transform="translate(148.5,687.6) rotate(-45)" x="0" y="0" font-size="11.6" font-family="Liberation Serif" font-weight="bold" fill="#222" text-anchor="end" >IL-10</text><text transform="translate(166.7,687.6) rotate(-45)" x="0" y="0" font-size="11.6" font-family="Liberation Serif" font-weight="bold" fill="#222" text-anchor="end" >IL-12(p40)</text><text transform="translate(184.9,687.6) rotate(-45)" x="0" y="0" font-size="11.6" font-family="Liberation Serif" font-weight="bold" fill="#222" text-anchor="end" >IL-12(p70)</text><text transform="translate(203.0,687.6) rotate(-45)" x="0" y="0" font-size="11.6" font-family="Liberation Serif" font-weight="bold" fill="#222" text-anchor="end" >IL-17</text><text transform="translate(221.2,687.6) rotate(-45)" x="0" y="0" font-size="11.6" font-family="Liberation Serif" font-weight="bold" fill="#222" text-anchor="end" >Eotaxin</text><text transform="translate(239.3,687.6) rotate(-45)" x="0" y="0" font-size="11.6" font-family="Liberation Serif" font-weight="bold" fill="#222" text-anchor="end" >IFNγ</text><text transform="translate(257.5,687.6) rotate(-45)" x="0" y="0" font-size="11.6" font-family="Liberation Serif" font-weight="bold" fill="#222" text-anchor="end" >MCP-1</text><text transform="translate(275.7,687.6) rotate(-45)" x="0" y="0" font-size="11.6" font-family="Liberation Serif" font-weight="bold" fill="#222" text-anchor="end" >MIP-1α</text><text transform="translate(293.8,687.6) rotate(-45)" x="0" y="0" font-size="11.6" font-family="Liberation Serif" font-weight="bold" fill="#222" text-anchor="end" >Rantes</text><text transform="translate(312.0,687.6) rotate(-45)" x="0" y="0" font-size="11.6" font-family="Liberation Serif" font-weight="bold" fill="#222" text-anchor="end" >TNF</text><text transform="translate(82.3,681.6) rotate(-45)" x="0" y="0" font-size="12" font-family="Liberation Serif" fill="#222" text-anchor="middle" >α</text><text transform="translate(98.7,681.6) rotate(-45)" x="0" y="0" font-size="12" font-family="Liberation Serif" fill="#222" text-anchor="middle" >β</text><text transform="translate(245.0,681.6) rotate(-45)" x="0" y="0" font-size="12" font-family="Liberation Serif" fill="#222" text-anchor="middle" >γ</text><text transform="translate(281.9,681.6) rotate(-45)" x="0" y="0" font-size="12" font-family="Liberation Serif" fill="#222" text-anchor="middle" >α</text><text x="383.0" y="493.7" font-size="17" font-family="Liberation Serif" font-weight="bold" fill="#222" text-anchor="start" >E</text><text x="430.0" y="674.8" font-size="12" font-family="Liberation Serif" font-weight="bold" fill="#222" text-anchor="end">10</text><text x="430.3" y="670.8" font-size="7" font-family="Liberation Serif" font-weight="bold" fill="#222">0</text><text x="430.0" y="642.7" font-size="12" font-family="Liberation Serif" font-weight="bold" fill="#222" text-anchor="end">10</text><text x="430.3" y="638.7" font-size="7" font-family="Liberation Serif" font-weight="bold" fill="#222">1</text><text x="430.0" y="610.5" font-size="12" font-family="Liberation Serif" font-weight="bold" fill="#222" text-anchor="end">10</text><text x="430.3" y="606.5" font-size="7" font-family="Liberation Serif" font-weight="bold" fill="#222">2</text><text x="430.0" y="578.4" font-size="12" font-family="Liberation Serif" font-weight="bold" fill="#222" text-anchor="end">10</text><text x="430.3" y="574.4" font-size="7" font-family="Liberation Serif" font-weight="bold" fill="#222">3</text><text x="430.0" y="546.2" font-size="12" font-family="Liberation Serif" font-weight="bold" fill="#222" text-anchor="end">10</text><text x="430.3" y="542.2" font-size="7" font-family="Liberation Serif" font-weight="bold" fill="#222">4</text><text x="430.0" y="514.1" font-size="12" font-family="Liberation Serif" font-weight="bold" fill="#222" text-anchor="end">10</text><text x="430.3" y="510.1" font-size="7" font-family="Liberation Serif" font-weight="bold" fill="#222">5</text><text transform="translate(403.1,637.4) rotate(-90)" x="0" y="0" font-size="12.5" font-family="Liberation Serif" font-weight="bold" fill="#222" text-anchor="start" textLength="20.8" lengthAdjust="spacingAndGlyphs">Log</text><text transform="translate(405.8,614.2) rotate(-90)" x="0" y="0" font-size="8" font-family="Liberation Serif" font-weight="bold" fill="#222" text-anchor="start" textLength="8" lengthAdjust="spacingAndGlyphs">10</text><text transform="translate(403.1,603.4) rotate(-90)" x="0" y="0" font-size="12.5" font-family="Liberation Serif" font-weight="bold" fill="#222" text-anchor="start" textLength="18.6" lengthAdjust="spacingAndGlyphs">IL6</text><text transform="translate(403.1,582.6) rotate(-90)" x="0" y="0" font-size="12.5" font-family="Liberation Serif" font-weight="bold" fill="#222" text-anchor="start" textLength="36.8" lengthAdjust="spacingAndGlyphs">(pg/ml)</text><text x="480.7" y="688.0" font-size="11.5" font-family="Liberation Serif" font-weight="bold" fill="#222" text-anchor="middle" >0</text><text x="562.2" y="688.0" font-size="11.5" font-family="Liberation Serif" font-weight="bold" fill="#222" text-anchor="middle" >6</text><text x="643.2" y="688.0" font-size="11.5" font-family="Liberation Serif" font-weight="bold" fill="#222" text-anchor="middle" >24</text><text x="479.3" y="710.0" font-size="16" font-family="Liberation Serif" font-weight="bold" fill="#222" text-anchor="start" textLength="166.5" lengthAdjust="spacingAndGlyphs">Hours after LPS injection</text><text x="474.7" y="550.4" font-size="12.5" font-family="Liberation Serif" font-weight="bold" fill="#222" text-anchor="start" textLength="89" lengthAdjust="spacingAndGlyphs">(BxS)F1 females</text><text x="474.7" y="566.2" font-size="12.5" font-family="Liberation Serif" font-weight="bold" fill="#222" text-anchor="start" textLength="77.7" lengthAdjust="spacingAndGlyphs">(BxS)F1 males</text><text x="474.7" y="581.5" font-size="12.5" font-family="Liberation Serif" font-weight="bold" fill="#222" text-anchor="start" textLength="46" lengthAdjust="spacingAndGlyphs">C57BL/6</text><text x="2.5" y="778.6" font-size="17" font-family="Liberation Serif" font-weight="bold" fill="#222" text-anchor="start" >F</text><text x="58.5" y="935.8" font-size="10.5" font-family="Liberation Serif" font-weight="bold" fill="#222" text-anchor="end" >15</text><text x="58.5" y="902.2" font-size="10.5" font-family="Liberation Serif" font-weight="bold" fill="#222" text-anchor="end" >20</text><text x="58.5" y="868.5" font-size="10.5" font-family="Liberation Serif" font-weight="bold" fill="#222" text-anchor="end" >25</text><text x="58.5" y="834.9" font-size="10.5" font-family="Liberation Serif" font-weight="bold" fill="#222" text-anchor="end" >30</text><text x="58.5" y="801.2" font-size="10.5" font-family="Liberation Serif" font-weight="bold" fill="#222" text-anchor="end" >35</text><text x="58.5" y="767.6" font-size="10.5" font-family="Liberation Serif" font-weight="bold" fill="#222" text-anchor="end" >40</text><text x="65.5" y="949.6" font-size="10.5" font-family="Liberation Serif" font-weight="bold" fill="#222" text-anchor="middle" >0</text><text x="95.1" y="949.6" font-size="10.5" font-family="Liberation Serif" font-weight="bold" fill="#222" text-anchor="middle" >10</text><text x="124.8" y="949.6" font-size="10.5" font-family="Liberation Serif" font-weight="bold" fill="#222" text-anchor="middle" >20</text><text x="154.4" y="949.6" font-size="10.5" font-family="Liberation Serif" font-weight="bold" fill="#222" text-anchor="middle" >30</text><text x="184.0" y="949.6" font-size="10.5" font-family="Liberation Serif" font-weight="bold" fill="#222" text-anchor="middle" >40</text><text x="213.6" y="949.6" font-size="10.5" font-family="Liberation Serif" font-weight="bold" fill="#222" text-anchor="middle" >50</text><text x="243.2" y="949.6" font-size="10.5" font-family="Liberation Serif" font-weight="bold" fill="#222" text-anchor="middle" >60</text><text x="272.9" y="949.6" font-size="10.5" font-family="Liberation Serif" font-weight="bold" fill="#222" text-anchor="middle" >70</text><text x="302.5" y="949.6" font-size="10.5" font-family="Liberation Serif" font-weight="bold" fill="#222" text-anchor="middle" >80</text><text transform="translate(34.8,919.0) rotate(-90)" x="0" y="0" font-size="14.4" font-family="Liberation Serif" font-weight="bold" fill="#222" text-anchor="start" textLength="110" lengthAdjust="spacingAndGlyphs">Body tem<tspan dx="1">perature</tspan></text><text transform="translate(34.8,804.0) rotate(-90)" x="0" y="0" font-size="14.4" font-family="Liberation Serif" fill="#222" text-anchor="start" textLength="25" lengthAdjust="spacingAndGlyphs">( °<tspan font-weight="bold">C</tspan>)</text><text x="109.5" y="970.1" font-size="15" font-family="Liberation Serif" font-weight="bold" fill="#222" text-anchor="start" textLength="149.2" lengthAdjust="spacingAndGlyphs">Hours after LPS injection</text><text x="211.6" y="771.9" font-size="11.5" font-family="Liberation Serif" font-weight="bold" fill="#222" text-anchor="start" textLength="70" lengthAdjust="spacingAndGlyphs">(BxS)F1 males</text><text x="211.6" y="791.6" font-size="11.5" font-family="Liberation Serif" font-weight="bold" fill="#222" text-anchor="start" textLength="70" lengthAdjust="spacingAndGlyphs">(SxB)F1 males</text><text x="382.0" y="776.9" font-size="17" font-family="Liberation Serif" font-weight="bold" fill="#222" text-anchor="start" >G</text><text x="426.6" y="945.6" font-size="11" font-family="Liberation Serif" font-weight="bold" fill="#222" text-anchor="end">10</text><text x="427.6" y="941.7" font-size="6.8" font-family="Liberation Serif" font-weight="bold" fill="#222">0</text><text x="426.6" y="926.3" font-size="11" font-family="Liberation Serif" font-weight="bold" fill="#222" text-anchor="end">10</text><text x="427.6" y="922.4" font-size="6.8" font-family="Liberation Serif" font-weight="bold" fill="#222">1</text><text x="426.6" y="906.9" font-size="11" font-family="Liberation Serif" font-weight="bold" fill="#222" text-anchor="end">10</text><text x="427.6" y="903.0" font-size="6.8" font-family="Liberation Serif" font-weight="bold" fill="#222">2</text><text x="426.6" y="887.6" font-size="11" font-family="Liberation Serif" font-weight="bold" fill="#222" text-anchor="end">10</text><text x="427.6" y="883.7" font-size="6.8" font-family="Liberation Serif" font-weight="bold" fill="#222">3</text><text x="426.6" y="868.3" font-size="11" font-family="Liberation Serif" font-weight="bold" fill="#222" text-anchor="end">10</text><text x="427.6" y="864.4" font-size="6.8" font-family="Liberation Serif" font-weight="bold" fill="#222">4</text><text x="426.6" y="849.0" font-size="11" font-family="Liberation Serif" font-weight="bold" fill="#222" text-anchor="end">10</text><text x="427.6" y="845.1" font-size="6.8" font-family="Liberation Serif" font-weight="bold" fill="#222">5</text><text x="426.6" y="829.6" font-size="11" font-family="Liberation Serif" font-weight="bold" fill="#222" text-anchor="end">10</text><text x="427.6" y="825.7" font-size="6.8" font-family="Liberation Serif" font-weight="bold" fill="#222">6</text><text x="426.6" y="810.3" font-size="11" font-family="Liberation Serif" font-weight="bold" fill="#222" text-anchor="end">10</text><text x="427.6" y="806.4" font-size="6.8" font-family="Liberation Serif" font-weight="bold" fill="#222">7</text><text x="426.6" y="791.0" font-size="11" font-family="Liberation Serif" font-weight="bold" fill="#222" text-anchor="end">10</text><text x="427.6" y="787.1" font-size="6.8" font-family="Liberation Serif" font-weight="bold" fill="#222">8</text><text transform="translate(406.3,913.4) rotate(-90)" x="0" y="0" font-size="12.5" font-family="Liberation Serif" font-weight="bold" fill="#222" text-anchor="start" textLength="20.6" lengthAdjust="spacingAndGlyphs">Log</text><text transform="translate(408.8,891.0) rotate(-90)" x="0" y="0" font-size="8.5" font-family="Liberation Serif" font-weight="bold" fill="#222" text-anchor="start" textLength="10.4" lengthAdjust="spacingAndGlyphs">1 0</text><text transform="translate(406.3,877.2) rotate(-90)" x="0" y="0" font-size="12.5" font-family="Liberation Serif" font-weight="bold" fill="#222" text-anchor="start" textLength="20" lengthAdjust="spacingAndGlyphs">IL6</text><text transform="translate(406.3,854.8) rotate(-90)" x="0" y="0" font-size="12.5" font-family="Liberation Serif" font-weight="bold" fill="#222" text-anchor="start" textLength="41.2" lengthAdjust="spacingAndGlyphs">(pg/ml)</text><text x="472.4" y="956.9" font-size="11.5" font-family="Liberation Serif" font-weight="bold" fill="#222" text-anchor="middle" textLength="48.8" lengthAdjust="spacingAndGlyphs">F1 females</text><text x="545.2" y="956.9" font-size="11.5" font-family="Liberation Serif" font-weight="bold" fill="#222" text-anchor="middle" textLength="40.1" lengthAdjust="spacingAndGlyphs">F1 males</text><text x="618.0" y="956.9" font-size="11.5" font-family="Liberation Serif" font-weight="bold" fill="#222" text-anchor="middle" textLength="41.1" lengthAdjust="spacingAndGlyphs">C57BL/6</text></g>
</svg></body></html>
